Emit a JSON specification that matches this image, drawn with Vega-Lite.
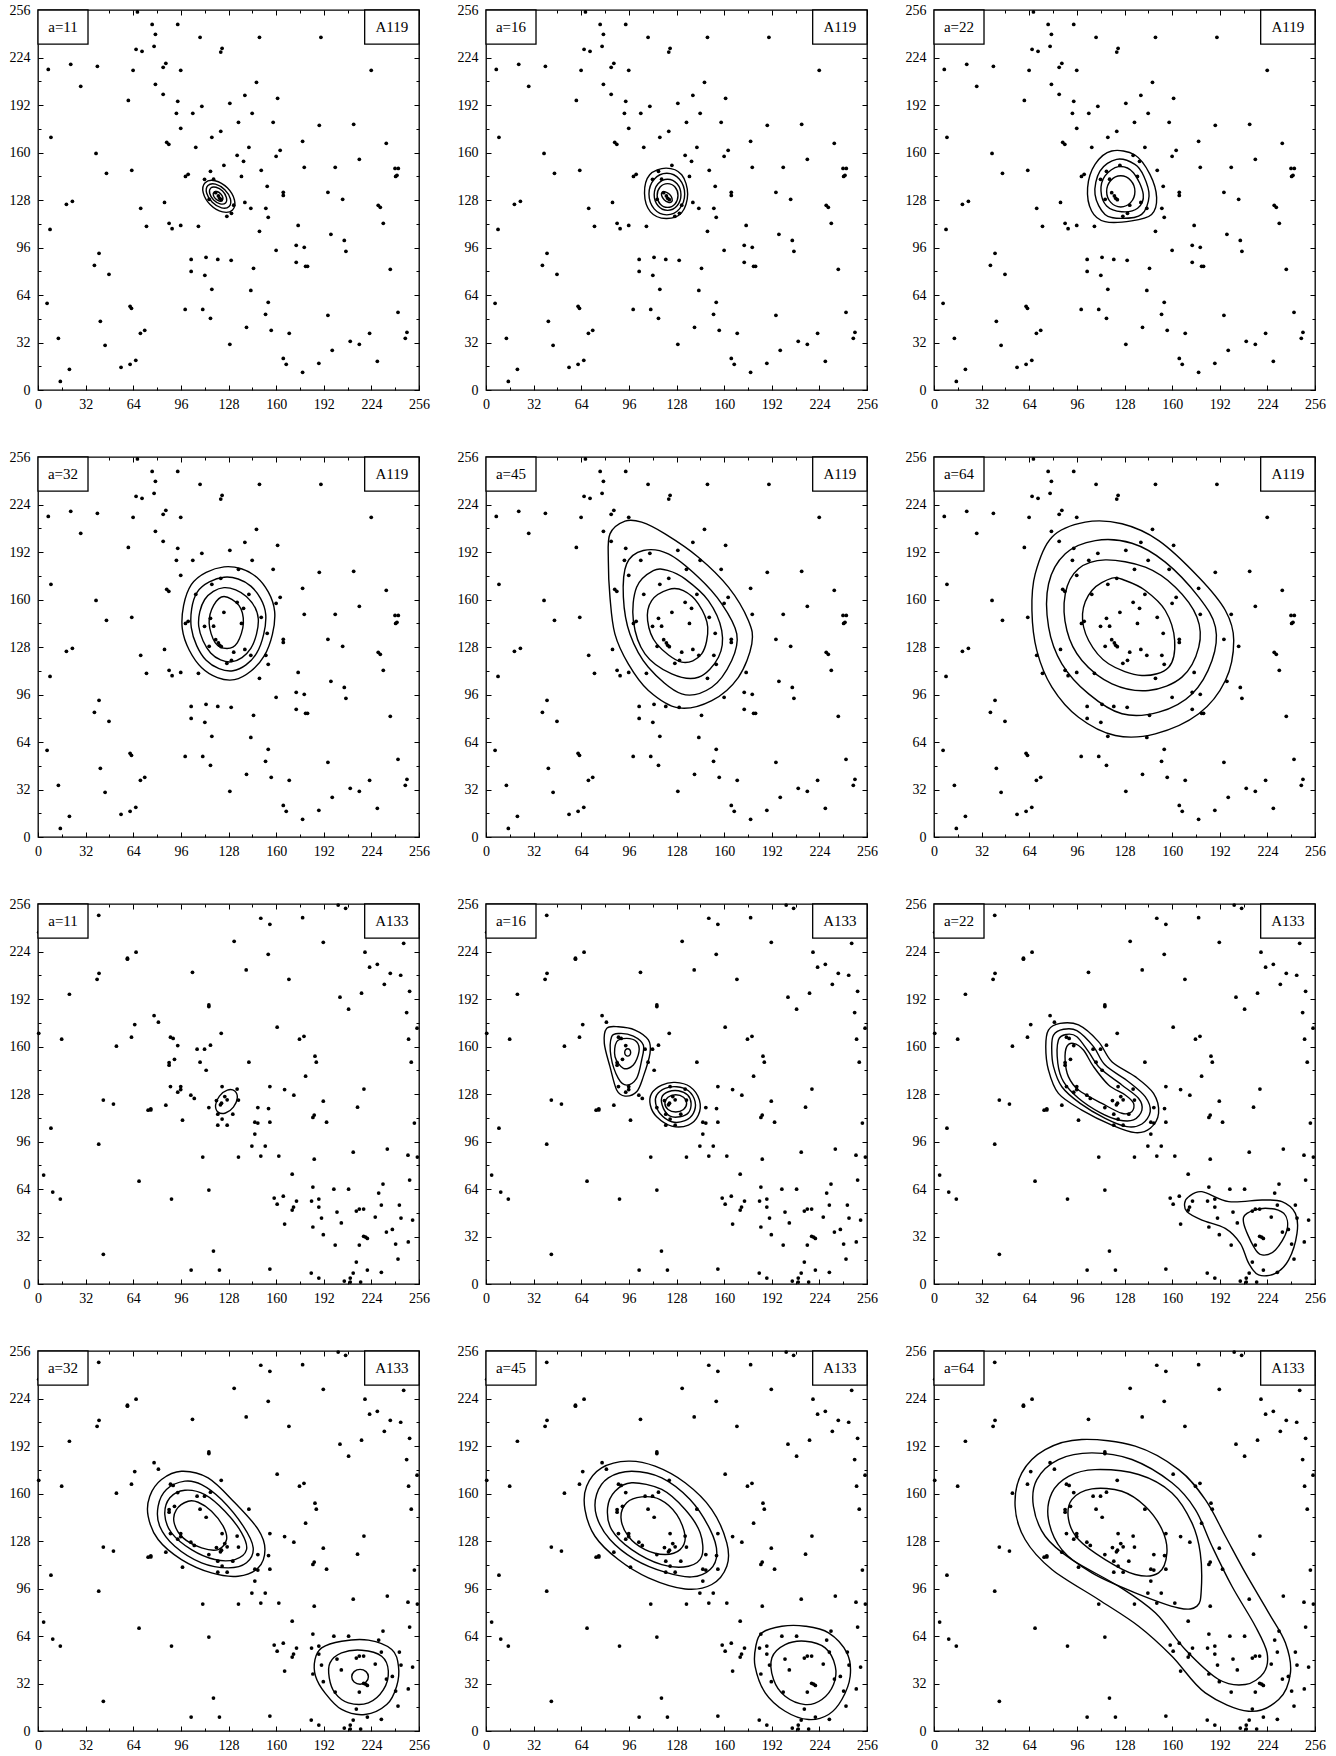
{
"$schema":"https://vega.github.io/schema/vega-lite/v6.json",
"padding":{"left":8,"top":2,"right":5,"bottom":5},
"background":"white",
"config":{"view":{"stroke":"black","strokeWidth":1.3},"axis":{"grid":false,"domain":false,"labelFont":"Liberation Serif","labelFontSize":14,"labelColor":"black","tickColor":"black","tickWidth":1,"labelFlush":false,"labelOverlap":false}},
"datasets":{
"A119":[{"x":66.8,"y":254.7},{"x":76.7,"y":246.3},{"x":93.9,"y":246.3},{"x":78.9,"y":239.6},{"x":108.9,"y":237.6},{"x":148.8,"y":237.6},{"x":190.1,"y":237.6},{"x":78,"y":231.5},{"x":65.9,"y":229.5},{"x":69.9,"y":228.2},{"x":123.7,"y":230.2},{"x":122.8,"y":227.7},{"x":6.9,"y":216},{"x":22,"y":219.4},{"x":39.9,"y":218.1},{"x":63.9,"y":215.4},{"x":85.9,"y":220.1},{"x":84.1,"y":217.4},{"x":95.9,"y":215.4},{"x":223.9,"y":215.4},{"x":28.7,"y":204.6},{"x":78.9,"y":205.9},{"x":146.8,"y":207.3},{"x":84.1,"y":199.2},{"x":60.7,"y":195.1},{"x":93.9,"y":194.5},{"x":128.9,"y":193.1},{"x":139,"y":198.5},{"x":161,"y":196.5},{"x":110.1,"y":191.1},{"x":93,"y":186.4},{"x":104,"y":186.4},{"x":143.9,"y":186.4},{"x":95.9,"y":176.3},{"x":134.7,"y":180.3},{"x":158,"y":180.3},{"x":189,"y":178.3},{"x":212.1,"y":179},{"x":8.7,"y":170.2},{"x":122.8,"y":174.3},{"x":116.8,"y":170.2},{"x":86.5,"y":166.9},{"x":87.9,"y":165.5},{"x":177.8,"y":167.5},{"x":234,"y":166.2},{"x":106,"y":163.5},{"x":141.7,"y":163.5},{"x":39,"y":159.4},{"x":162.7,"y":161.5},{"x":160,"y":157.4},{"x":133.8,"y":158.1},{"x":215.9,"y":155.4},{"x":138.1,"y":154.1},{"x":124.9,"y":151.4},{"x":178.9,"y":150},{"x":199.7,"y":150},{"x":239.9,"y":149.3},{"x":242.1,"y":149.3},{"x":46,"y":146},{"x":63,"y":148},{"x":150,"y":148},{"x":115.9,"y":147.3},{"x":100.9,"y":145.3},{"x":99.1,"y":143.9},{"x":136.7,"y":143.9},{"x":241.2,"y":144.6},{"x":240.3,"y":143.9},{"x":111.9,"y":141.9},{"x":118,"y":142},{"x":154,"y":137.2},{"x":164.8,"y":133.2},{"x":164.8,"y":131.1},{"x":194.8,"y":133.2},{"x":204.7,"y":128.5},{"x":19.1,"y":125.1},{"x":23.1,"y":127.1},{"x":85,"y":126.4},{"x":139,"y":126.4},{"x":69,"y":122.4},{"x":143,"y":122.4},{"x":153.1,"y":122.4},{"x":228.6,"y":124.4},{"x":230,"y":123.1},{"x":130,"y":119},{"x":126.9,"y":117},{"x":8.1,"y":108.2},{"x":88.1,"y":112.3},{"x":90.1,"y":108.7},{"x":95.9,"y":110.9},{"x":72.9,"y":110.3},{"x":107.8,"y":110.3},{"x":154.7,"y":116.3},{"x":148.8,"y":106.9},{"x":174.8,"y":110.9},{"x":232,"y":112.3},{"x":196.8,"y":104.9},{"x":205.8,"y":100.8},{"x":206.9,"y":93.4},{"x":160,"y":94.1},{"x":173.5,"y":97.5},{"x":178.9,"y":96.1},{"x":41,"y":92.1},{"x":37.9,"y":84},{"x":47.7,"y":77.9},{"x":102.9,"y":88},{"x":112.9,"y":89.4},{"x":120.8,"y":88},{"x":129.8,"y":87.4},{"x":102.9,"y":79.9},{"x":112.1,"y":77.3},{"x":144.8,"y":82},{"x":173.5,"y":86},{"x":179.8,"y":83.3},{"x":181.1,"y":83.3},{"x":236.7,"y":81.3},{"x":116.8,"y":67.8},{"x":143,"y":67.1},{"x":6.1,"y":58.4},{"x":61.9,"y":56.4},{"x":62.8,"y":55},{"x":98.9,"y":54.3},{"x":110.7,"y":54.3},{"x":154.7,"y":59.1},{"x":241.9,"y":52.3},{"x":152.9,"y":51},{"x":194.8,"y":50.3},{"x":115.9,"y":48.3},{"x":41.9,"y":46.3},{"x":68.8,"y":38.2},{"x":71.7,"y":40.2},{"x":140.1,"y":42.2},{"x":156.7,"y":40.2},{"x":168.8,"y":38.2},{"x":222.8,"y":38.2},{"x":247.9,"y":38.9},{"x":246.8,"y":34.8},{"x":13.7,"y":34.8},{"x":45.1,"y":30.1},{"x":128.9,"y":30.8},{"x":209.8,"y":32.8},{"x":215.9,"y":30.8},{"x":197.7,"y":26.7},{"x":65.7,"y":20},{"x":61.9,"y":17.3},{"x":55.8,"y":15.3},{"x":164.8,"y":21.3},{"x":166.8,"y":17.3},{"x":188.7,"y":18},{"x":228,"y":19.3},{"x":177.8,"y":11.9},{"x":21.1,"y":13.9},{"x":15,"y":5.8},{"x":119.4,"y":132.9},{"x":121.2,"y":130.7},{"x":122.1,"y":129.1},{"x":123.2,"y":128.2},{"x":115,"y":128.5},{"x":131.5,"y":124.5}],
"A133":[{"x":40.8,"y":248.4},{"x":149.7,"y":246.4},{"x":155.8,"y":242.3},{"x":177.8,"y":246.8},{"x":201.7,"y":255.3},{"x":206.7,"y":253.1},{"x":131.8,"y":230.9},{"x":191.7,"y":230.2},{"x":245.7,"y":229.5},{"x":60.1,"y":218.8},{"x":60.1,"y":219.5},{"x":65.9,"y":223.5},{"x":154.7,"y":222.1},{"x":219.7,"y":223.5},{"x":222.8,"y":213.4},{"x":228,"y":215.4},{"x":41,"y":209.3},{"x":39.7,"y":205.3},{"x":103.8,"y":210},{"x":139.9,"y":211.6},{"x":168.6,"y":205.3},{"x":236.7,"y":209.3},{"x":243.7,"y":208},{"x":232.7,"y":201.9},{"x":249.7,"y":197.2},{"x":21.1,"y":195.2},{"x":202.9,"y":193.2},{"x":217.4,"y":195.9},{"x":114.8,"y":188},{"x":114.8,"y":186.9},{"x":208.7,"y":185.1},{"x":247.7,"y":182.9},{"x":78,"y":180.8},{"x":80.9,"y":176.4},{"x":65,"y":174.8},{"x":0.5,"y":168.9},{"x":254.7,"y":172.3},{"x":62.8,"y":166.3},{"x":123.1,"y":168.9},{"x":160.7,"y":173},{"x":15.9,"y":164.9},{"x":89,"y":166.3},{"x":90.8,"y":165.4},{"x":175.7,"y":164.9},{"x":178.7,"y":166.9},{"x":249,"y":164.9},{"x":52.7,"y":160.2},{"x":93.9,"y":160.6},{"x":106.9,"y":158.2},{"x":111.9,"y":158.2},{"x":115.9,"y":160.9},{"x":186.1,"y":153.5},{"x":187,"y":149.4},{"x":88.1,"y":149.2},{"x":88.1,"y":147.4},{"x":91.7,"y":151.4},{"x":108.9,"y":149.4},{"x":113,"y":144},{"x":141.7,"y":149.4},{"x":250.8,"y":149.4},{"x":179.8,"y":140},{"x":89,"y":133},{"x":95.9,"y":133},{"x":95.9,"y":131},{"x":93.9,"y":129.2},{"x":123.7,"y":133},{"x":133.8,"y":131.3},{"x":155.8,"y":133},{"x":165.7,"y":131},{"x":219,"y":131.3},{"x":102.7,"y":127.2},{"x":105,"y":125},{"x":171.9,"y":127.2},{"x":43.9,"y":123.9},{"x":50.7,"y":121.2},{"x":85.9,"y":120.5},{"x":74,"y":117.1},{"x":75.8,"y":118},{"x":75.8,"y":117.3},{"x":114.8,"y":118.9},{"x":134.7,"y":123.9},{"x":147.7,"y":118.9},{"x":154.9,"y":118.2},{"x":191.7,"y":123.2},{"x":214.7,"y":119.1},{"x":120.8,"y":114.4},{"x":130.9,"y":114.4},{"x":123.7,"y":111.1},{"x":120.8,"y":107},{"x":127.1,"y":107},{"x":97.1,"y":110.4},{"x":145.7,"y":109},{"x":147.7,"y":108.4},{"x":155.8,"y":109},{"x":184.7,"y":112.2},{"x":185.6,"y":113.8},{"x":193.9,"y":109},{"x":252.9,"y":108.4},{"x":8.7,"y":105},{"x":145.7,"y":101},{"x":40.8,"y":94.2},{"x":143.7,"y":92.9},{"x":152.7,"y":92.9},{"x":110.7,"y":85.5},{"x":134.7,"y":85.5},{"x":149.7,"y":86.2},{"x":161.8,"y":86.2},{"x":185.6,"y":84.1},{"x":234.7,"y":90.9},{"x":211.8,"y":88.8},{"x":248.6,"y":86.8},{"x":254.9,"y":85.5},{"x":3.8,"y":73.4},{"x":170.8,"y":74},{"x":67.9,"y":69.3},{"x":249.7,"y":70},{"x":231.8,"y":67.3},{"x":9.9,"y":61.9},{"x":114.8,"y":63.3},{"x":184.7,"y":65.3},{"x":198.8,"y":63.9},{"x":208.7,"y":63.9},{"x":228.9,"y":61.3},{"x":15,"y":57.2},{"x":89.7,"y":57.2},{"x":158.7,"y":57.9},{"x":164.8,"y":59.2},{"x":160.7,"y":53.8},{"x":173.7,"y":55.9},{"x":170.8,"y":49.8},{"x":171.7,"y":51.8},{"x":183.8,"y":55.9},{"x":188.7,"y":57.2},{"x":188.7,"y":51.8},{"x":230.7,"y":53.2},{"x":242.8,"y":53.2},{"x":200.9,"y":48.5},{"x":213.9,"y":49.1},{"x":215.9,"y":50.5},{"x":218.8,"y":50.5},{"x":165.7,"y":40.4},{"x":190.5,"y":44.4},{"x":203.8,"y":41.1},{"x":226.6,"y":45.1},{"x":243.9,"y":44.4},{"x":251.7,"y":43.1},{"x":184.7,"y":38.4},{"x":191.7,"y":33.2},{"x":218.8,"y":32.1},{"x":220.1,"y":31.6},{"x":221.3,"y":30.7},{"x":234.1,"y":35},{"x":238.1,"y":36.8},{"x":199.7,"y":26.2},{"x":215.9,"y":26.2},{"x":240.3,"y":26.9},{"x":248.8,"y":28.3},{"x":213.9,"y":14.8},{"x":241.9,"y":16.8},{"x":43.9,"y":20},{"x":117.9,"y":22.2},{"x":102.9,"y":9.4},{"x":121.9,"y":9.4},{"x":155.8,"y":10.1},{"x":183.6,"y":7.4},{"x":188.7,"y":4},{"x":205.8,"y":2},{"x":209.8,"y":4},{"x":211.8,"y":7.4},{"x":216.8,"y":1.3},{"x":209.8,"y":1.3},{"x":221.3,"y":9.4},{"x":230.7,"y":7.9},{"x":0.5,"y":236.9},{"x":123.3,"y":121.8},{"x":122.6,"y":120.7},{"x":125.5,"y":126.3},{"x":127.1,"y":124.1},{"x":119.9,"y":123.6}],
"ct":[
{"p":"119_11","c":1,"x":130.7,"y":121.3},{"p":"119_11","c":1,"x":132,"y":128},{"p":"119_11","c":1,"x":127.2,"y":136.2},{"p":"119_11","c":1,"x":119,"y":141},{"p":"119_11","c":1,"x":112.3,"y":139.7},{"p":"119_11","c":1,"x":111,"y":133},{"p":"119_11","c":1,"x":115.8,"y":124.8},{"p":"119_11","c":1,"x":124,"y":120},
{"p":"119_11","c":2,"x":128.4,"y":123.6},{"p":"119_11","c":2,"x":129.3,"y":128.7},{"p":"119_11","c":2,"x":125.5,"y":134.9},{"p":"119_11","c":2,"x":119.3,"y":138.7},{"p":"119_11","c":2,"x":114.2,"y":137.8},{"p":"119_11","c":2,"x":113.3,"y":132.7},{"p":"119_11","c":2,"x":117.1,"y":126.5},{"p":"119_11","c":2,"x":123.3,"y":122.7},
{"p":"119_11","c":3,"x":126,"y":126},{"p":"119_11","c":3,"x":126.6,"y":129.6},{"p":"119_11","c":3,"x":124,"y":134},{"p":"119_11","c":3,"x":119.6,"y":136.6},{"p":"119_11","c":3,"x":116,"y":136},{"p":"119_11","c":3,"x":115.4,"y":132.4},{"p":"119_11","c":3,"x":118,"y":128},{"p":"119_11","c":3,"x":122.4,"y":125.4},
{"p":"119_11","c":4,"x":123.8,"y":127.7},{"p":"119_11","c":4,"x":124.2,"y":129.7},{"p":"119_11","c":4,"x":122.7,"y":132.2},{"p":"119_11","c":4,"x":120.2,"y":133.7},{"p":"119_11","c":4,"x":118.2,"y":133.3},{"p":"119_11","c":4,"x":117.8,"y":131.3},{"p":"119_11","c":4,"x":119.3,"y":128.8},{"p":"119_11","c":4,"x":121.8,"y":127.3},
{"p":"119_16","c":1,"x":121,"y":149.5},{"p":"119_16","c":1,"x":131.5,"y":145},{"p":"119_16","c":1,"x":135.5,"y":132},{"p":"119_16","c":1,"x":131.5,"y":119.5},{"p":"119_16","c":1,"x":121,"y":115.5},{"p":"119_16","c":1,"x":110.5,"y":120},{"p":"119_16","c":1,"x":106.5,"y":132.5},{"p":"119_16","c":1,"x":110,"y":145},
{"p":"119_16","c":2,"x":121.5,"y":146},{"p":"119_16","c":2,"x":130,"y":142},{"p":"119_16","c":2,"x":133.5,"y":132},{"p":"119_16","c":2,"x":130,"y":122},{"p":"119_16","c":2,"x":121.5,"y":118},{"p":"119_16","c":2,"x":113,"y":122},{"p":"119_16","c":2,"x":109.5,"y":132},{"p":"119_16","c":2,"x":113,"y":142},
{"p":"119_16","c":3,"x":122,"y":142},{"p":"119_16","c":3,"x":128.4,"y":138.9},{"p":"119_16","c":3,"x":131,"y":131.5},{"p":"119_16","c":3,"x":128.4,"y":124.1},{"p":"119_16","c":3,"x":122,"y":121},{"p":"119_16","c":3,"x":115.6,"y":124.1},{"p":"119_16","c":3,"x":113,"y":131.5},{"p":"119_16","c":3,"x":115.6,"y":138.9},
{"p":"119_16","c":4,"x":122,"y":139},{"p":"119_16","c":4,"x":127,"y":136.7},{"p":"119_16","c":4,"x":129,"y":131},{"p":"119_16","c":4,"x":127,"y":125.3},{"p":"119_16","c":4,"x":122,"y":123},{"p":"119_16","c":4,"x":117,"y":125.3},{"p":"119_16","c":4,"x":115,"y":131},{"p":"119_16","c":4,"x":117,"y":136.7},
{"p":"119_16","c":5,"x":124.7,"y":126.8},{"p":"119_16","c":5,"x":125,"y":129},{"p":"119_16","c":5,"x":123.3,"y":131.8},{"p":"119_16","c":5,"x":120.5,"y":133.5},{"p":"119_16","c":5,"x":118.3,"y":133.2},{"p":"119_16","c":5,"x":118,"y":131},{"p":"119_16","c":5,"x":119.7,"y":128.2},{"p":"119_16","c":5,"x":122.5,"y":126.5},
{"p":"119_22","c":1,"x":119.4,"y":161},{"p":"119_22","c":1,"x":135,"y":158.3},{"p":"119_22","c":1,"x":145.1,"y":145.3},{"p":"119_22","c":1,"x":149.6,"y":129.6},{"p":"119_22","c":1,"x":146.2,"y":118.3},{"p":"119_22","c":1,"x":132.8,"y":113.9},{"p":"119_22","c":1,"x":114.9,"y":113.4},{"p":"119_22","c":1,"x":105.9,"y":120.6},{"p":"119_22","c":1,"x":103.2,"y":136.3},{"p":"119_22","c":1,"x":108.2,"y":152},
{"p":"119_22","c":2,"x":122.7,"y":155.4},{"p":"119_22","c":2,"x":135,"y":152},{"p":"119_22","c":2,"x":141,"y":144},{"p":"119_22","c":2,"x":144.5,"y":130.7},{"p":"119_22","c":2,"x":139.5,"y":118.3},{"p":"119_22","c":2,"x":126.1,"y":115.6},{"p":"119_22","c":2,"x":114.9,"y":118.3},{"p":"119_22","c":2,"x":108.2,"y":131.8},{"p":"119_22","c":2,"x":111.5,"y":147.5},
{"p":"119_22","c":3,"x":124,"y":150.5},{"p":"119_22","c":3,"x":134,"y":146.4},{"p":"119_22","c":3,"x":140.6,"y":131.8},{"p":"119_22","c":3,"x":136.8,"y":122.4},{"p":"119_22","c":3,"x":126.1,"y":120.1},{"p":"119_22","c":3,"x":116,"y":124},{"p":"119_22","c":3,"x":112.2,"y":134.1},{"p":"119_22","c":3,"x":114.9,"y":144.2},
{"p":"119_22","c":4,"x":125.5,"y":144.3},{"p":"119_22","c":4,"x":132.2,"y":141.2},{"p":"119_22","c":4,"x":135,"y":133.8},{"p":"119_22","c":4,"x":132.2,"y":126.4},{"p":"119_22","c":4,"x":125.5,"y":123.3},{"p":"119_22","c":4,"x":118.8,"y":126.4},{"p":"119_22","c":4,"x":116,"y":133.8},{"p":"119_22","c":4,"x":118.8,"y":141.2},
{"p":"119_32","c":1,"x":125,"y":182},{"p":"119_32","c":1,"x":147,"y":175},{"p":"119_32","c":1,"x":159,"y":152},{"p":"119_32","c":1,"x":152,"y":122},{"p":"119_32","c":1,"x":132,"y":106},{"p":"119_32","c":1,"x":110,"y":114},{"p":"119_32","c":1,"x":97,"y":140},{"p":"119_32","c":1,"x":103,"y":170},
{"p":"119_32","c":2,"x":125,"y":175},{"p":"119_32","c":2,"x":143,"y":169},{"p":"119_32","c":2,"x":153,"y":150},{"p":"119_32","c":2,"x":147,"y":124},{"p":"119_32","c":2,"x":131,"y":112},{"p":"119_32","c":2,"x":113,"y":119},{"p":"119_32","c":2,"x":103,"y":141},{"p":"119_32","c":2,"x":107,"y":165},
{"p":"119_32","c":3,"x":125,"y":168},{"p":"119_32","c":3,"x":140,"y":162},{"p":"119_32","c":3,"x":148,"y":147},{"p":"119_32","c":3,"x":143,"y":127},{"p":"119_32","c":3,"x":130,"y":118},{"p":"119_32","c":3,"x":116,"y":124},{"p":"119_32","c":3,"x":108,"y":142},{"p":"119_32","c":3,"x":112,"y":160},
{"p":"119_32","c":4,"x":125,"y":162},{"p":"119_32","c":4,"x":135,"y":156},{"p":"119_32","c":4,"x":138,"y":144},{"p":"119_32","c":4,"x":134,"y":131},{"p":"119_32","c":4,"x":127,"y":127},{"p":"119_32","c":4,"x":119,"y":131},{"p":"119_32","c":4,"x":115,"y":144},{"p":"119_32","c":4,"x":118,"y":156},
{"p":"119_45","c":1,"x":93.4,"y":212.8},{"p":"119_45","c":1,"x":83.3,"y":204.2},{"p":"119_45","c":1,"x":82.2,"y":186.3},{"p":"119_45","c":1,"x":83.3,"y":161.6},{"p":"119_45","c":1,"x":86.6,"y":136.8},{"p":"119_45","c":1,"x":95.6,"y":116.6},{"p":"119_45","c":1,"x":109.1,"y":98.7},{"p":"119_45","c":1,"x":129.2,"y":87},{"p":"119_45","c":1,"x":151.7,"y":91.9},{"p":"119_45","c":1,"x":169.6,"y":107.6},{"p":"119_45","c":1,"x":178.6,"y":130.1},{"p":"119_45","c":1,"x":176.3,"y":145.8},{"p":"119_45","c":1,"x":162.9,"y":168.3},{"p":"119_45","c":1,"x":142.7,"y":188.5},{"p":"119_45","c":1,"x":120.3,"y":204.2},{"p":"119_45","c":1,"x":104.6,"y":212.1},
{"p":"119_45","c":2,"x":105.7,"y":193},{"p":"119_45","c":2,"x":94.5,"y":184},{"p":"119_45","c":2,"x":92.3,"y":161.6},{"p":"119_45","c":2,"x":96.7,"y":136.8},{"p":"119_45","c":2,"x":109.1,"y":114.4},{"p":"119_45","c":2,"x":131.5,"y":96.4},{"p":"119_45","c":2,"x":151.7,"y":100.9},{"p":"119_45","c":2,"x":165.1,"y":118.9},{"p":"119_45","c":2,"x":168.5,"y":136.8},{"p":"119_45","c":2,"x":158.4,"y":157.1},{"p":"119_45","c":2,"x":142.7,"y":175},{"p":"119_45","c":2,"x":122.5,"y":190.7},
{"p":"119_45","c":3,"x":112.4,"y":179.5},{"p":"119_45","c":3,"x":101.2,"y":168.3},{"p":"119_45","c":3,"x":99,"y":145.8},{"p":"119_45","c":3,"x":106.8,"y":123.4},{"p":"119_45","c":3,"x":124.8,"y":109.9},{"p":"119_45","c":3,"x":142.7,"y":107.6},{"p":"119_45","c":3,"x":156.2,"y":121.1},{"p":"119_45","c":3,"x":158.4,"y":139.1},{"p":"119_45","c":3,"x":149.4,"y":159.3},{"p":"119_45","c":3,"x":133.7,"y":173.9},{"p":"119_45","c":3,"x":122.5,"y":179.5},
{"p":"119_45","c":4,"x":122.5,"y":166.7},{"p":"119_45","c":4,"x":111.3,"y":159.3},{"p":"119_45","c":4,"x":108.6,"y":145.8},{"p":"119_45","c":4,"x":114.7,"y":130.1},{"p":"119_45","c":4,"x":131.5,"y":117.8},{"p":"119_45","c":4,"x":144.9,"y":123.4},{"p":"119_45","c":4,"x":149,"y":141.3},{"p":"119_45","c":4,"x":142.7,"y":157.1},{"p":"119_45","c":4,"x":132.6,"y":166},
{"p":"119_64","c":1,"x":101.6,"y":212.1},{"p":"119_64","c":1,"x":79.2,"y":202},{"p":"119_64","c":1,"x":68,"y":177.3},{"p":"119_64","c":1,"x":65.8,"y":152.6},{"p":"119_64","c":1,"x":69.1,"y":125.6},{"p":"119_64","c":1,"x":79.2,"y":101},{"p":"119_64","c":1,"x":97.1,"y":80.7},{"p":"119_64","c":1,"x":121.8,"y":68.4},{"p":"119_64","c":1,"x":148.7,"y":69.5},{"p":"119_64","c":1,"x":177.9,"y":83},{"p":"119_64","c":1,"x":195.8,"y":105.4},{"p":"119_64","c":1,"x":201.4,"y":132.4},{"p":"119_64","c":1,"x":195.8,"y":152.6},{"p":"119_64","c":1,"x":177.9,"y":175},{"p":"119_64","c":1,"x":151,"y":199.7},{"p":"119_64","c":1,"x":126.3,"y":211},
{"p":"119_64","c":2,"x":108.4,"y":199.7},{"p":"119_64","c":2,"x":88.2,"y":190.8},{"p":"119_64","c":2,"x":77,"y":170.6},{"p":"119_64","c":2,"x":77,"y":141.4},{"p":"119_64","c":2,"x":85.9,"y":116.7},{"p":"119_64","c":2,"x":103.9,"y":96.4},{"p":"119_64","c":2,"x":126.3,"y":83},{"p":"119_64","c":2,"x":151,"y":84.1},{"p":"119_64","c":2,"x":173.4,"y":96.4},{"p":"119_64","c":2,"x":186.8,"y":118.9},{"p":"119_64","c":2,"x":189.1,"y":141.4},{"p":"119_64","c":2,"x":177.9,"y":161.6},{"p":"119_64","c":2,"x":155.4,"y":185.2},{"p":"119_64","c":2,"x":133,"y":197.9},
{"p":"119_64","c":3,"x":115.1,"y":186.7},{"p":"119_64","c":3,"x":97.1,"y":180.7},{"p":"119_64","c":3,"x":88.2,"y":163.8},{"p":"119_64","c":3,"x":89.3,"y":139.1},{"p":"119_64","c":3,"x":99.4,"y":118.9},{"p":"119_64","c":3,"x":119.6,"y":103.2},{"p":"119_64","c":3,"x":144.2,"y":98.7},{"p":"119_64","c":3,"x":166.6,"y":107.7},{"p":"119_64","c":3,"x":177.9,"y":127.9},{"p":"119_64","c":3,"x":176.7,"y":148.1},{"p":"119_64","c":3,"x":162.2,"y":168.3},{"p":"119_64","c":3,"x":142,"y":181.8},
{"p":"119_64","c":4,"x":119.6,"y":174.4},{"p":"119_64","c":4,"x":106.1,"y":166.1},{"p":"119_64","c":4,"x":99.8,"y":150.3},{"p":"119_64","c":4,"x":103.9,"y":132.4},{"p":"119_64","c":4,"x":117.3,"y":116.7},{"p":"119_64","c":4,"x":139.7,"y":108.8},{"p":"119_64","c":4,"x":157.7,"y":114.4},{"p":"119_64","c":4,"x":161.7,"y":132.4},{"p":"119_64","c":4,"x":155.4,"y":152.6},{"p":"119_64","c":4,"x":142,"y":166.1},{"p":"119_64","c":4,"x":128.5,"y":172.8},
{"p":"133_11","c":1,"x":132.2,"y":130},{"p":"133_11","c":1,"x":127.2,"y":130.6},{"p":"133_11","c":1,"x":121.9,"y":126.6},{"p":"133_11","c":1,"x":119.3,"y":120.5},{"p":"133_11","c":1,"x":121,"y":115.8},{"p":"133_11","c":1,"x":126,"y":115.2},{"p":"133_11","c":1,"x":131.3,"y":119.2},{"p":"133_11","c":1,"x":133.9,"y":125.3},
{"p":"133_16","c":1,"x":81.1,"y":172.2},{"p":"133_16","c":1,"x":79.5,"y":162.1},{"p":"133_16","c":1,"x":83.3,"y":146.4},{"p":"133_16","c":1,"x":87.8,"y":130.7},{"p":"133_16","c":1,"x":93.4,"y":126.6},{"p":"133_16","c":1,"x":101.2,"y":129.5},{"p":"133_16","c":1,"x":105.7,"y":139.7},{"p":"133_16","c":1,"x":110.2,"y":155.4},{"p":"133_16","c":1,"x":109.1,"y":164.4},{"p":"133_16","c":1,"x":100.1,"y":171.1},{"p":"133_16","c":1,"x":88.9,"y":173.3},
{"p":"133_16","c":2,"x":84.4,"y":166.6},{"p":"133_16","c":2,"x":84,"y":153.1},{"p":"133_16","c":2,"x":88.9,"y":138.5},{"p":"133_16","c":2,"x":94.5,"y":134},{"p":"133_16","c":2,"x":101.2,"y":138.5},{"p":"133_16","c":2,"x":104.6,"y":150.9},{"p":"133_16","c":2,"x":105.7,"y":161},{"p":"133_16","c":2,"x":99,"y":167},{"p":"133_16","c":2,"x":90,"y":168.8},
{"p":"133_16","c":3,"x":87.8,"y":163.2},{"p":"133_16","c":3,"x":86.7,"y":153.1},{"p":"133_16","c":3,"x":92.3,"y":145.3},{"p":"133_16","c":3,"x":99,"y":147.5},{"p":"133_16","c":3,"x":102.8,"y":156.5},{"p":"133_16","c":3,"x":101.2,"y":163.2},{"p":"133_16","c":3,"x":94.5,"y":165.5},
{"p":"133_16","c":4,"x":95.2,"y":158.5},{"p":"133_16","c":4,"x":96.6,"y":157.8},{"p":"133_16","c":4,"x":97.2,"y":156},{"p":"133_16","c":4,"x":96.6,"y":154.2},{"p":"133_16","c":4,"x":95.2,"y":153.5},{"p":"133_16","c":4,"x":93.8,"y":154.2},{"p":"133_16","c":4,"x":93.2,"y":156},{"p":"133_16","c":4,"x":93.8,"y":157.8},
{"p":"133_16","c":5,"x":111.3,"y":128.4},{"p":"133_16","c":5,"x":118.1,"y":134},{"p":"133_16","c":5,"x":127,"y":135.8},{"p":"133_16","c":5,"x":137.1,"y":132.9},{"p":"133_16","c":5,"x":143.4,"y":123.9},{"p":"133_16","c":5,"x":142.7,"y":113.8},{"p":"133_16","c":5,"x":136,"y":107.1},{"p":"133_16","c":5,"x":124.8,"y":106.4},{"p":"133_16","c":5,"x":114.7,"y":112.7},{"p":"133_16","c":5,"x":110.4,"y":120.6},
{"p":"133_16","c":6,"x":114.7,"y":127.3},{"p":"133_16","c":6,"x":120.3,"y":131.8},{"p":"133_16","c":6,"x":128.1,"y":132.9},{"p":"133_16","c":6,"x":136,"y":130.2},{"p":"133_16","c":6,"x":140.5,"y":122.8},{"p":"133_16","c":6,"x":139.3,"y":114.9},{"p":"133_16","c":6,"x":133.7,"y":110},{"p":"133_16","c":6,"x":124.8,"y":109.3},{"p":"133_16","c":6,"x":116.9,"y":114.9},{"p":"133_16","c":6,"x":114,"y":121.7},
{"p":"133_16","c":7,"x":118.1,"y":125.7},{"p":"133_16","c":7,"x":122.5,"y":129.5},{"p":"133_16","c":7,"x":129.3,"y":130.2},{"p":"133_16","c":7,"x":135.5,"y":127.3},{"p":"133_16","c":7,"x":137.8,"y":121.7},{"p":"133_16","c":7,"x":136,"y":115.4},{"p":"133_16","c":7,"x":130.4,"y":112.7},{"p":"133_16","c":7,"x":123.7,"y":113.1},{"p":"133_16","c":7,"x":119.2,"y":118.3},
{"p":"133_16","c":8,"x":127.5,"y":127.5},{"p":"133_16","c":8,"x":132.7,"y":125.8},{"p":"133_16","c":8,"x":134.8,"y":121.7},{"p":"133_16","c":8,"x":132.7,"y":117.6},{"p":"133_16","c":8,"x":127.5,"y":115.9},{"p":"133_16","c":8,"x":122.3,"y":117.6},{"p":"133_16","c":8,"x":120.2,"y":121.7},{"p":"133_16","c":8,"x":122.3,"y":125.8},
{"p":"133_22","c":1,"x":76.9,"y":171.1},{"p":"133_22","c":1,"x":84.7,"y":175.6},{"p":"133_22","c":1,"x":97.1,"y":174.5},{"p":"133_22","c":1,"x":110.5,"y":163.3},{"p":"133_22","c":1,"x":119.5,"y":149.8},{"p":"133_22","c":1,"x":135.2,"y":139.7},{"p":"133_22","c":1,"x":147.5,"y":128.4},{"p":"133_22","c":1,"x":150.9,"y":115},{"p":"133_22","c":1,"x":145.3,"y":104.9},{"p":"133_22","c":1,"x":135.2,"y":102},{"p":"133_22","c":1,"x":119.5,"y":107.1},{"p":"133_22","c":1,"x":99.3,"y":117.2},{"p":"133_22","c":1,"x":83.6,"y":128.4},{"p":"133_22","c":1,"x":76.9,"y":144.2},{"p":"133_22","c":1,"x":75.1,"y":159.9},
{"p":"133_22","c":2,"x":80.3,"y":167.7},{"p":"133_22","c":2,"x":87,"y":171.6},{"p":"133_22","c":2,"x":96,"y":170.7},{"p":"133_22","c":2,"x":107.2,"y":159.9},{"p":"133_22","c":2,"x":115,"y":147.5},{"p":"133_22","c":2,"x":130.7,"y":136.3},{"p":"133_22","c":2,"x":141.9,"y":126.2},{"p":"133_22","c":2,"x":145.3,"y":116.1},{"p":"133_22","c":2,"x":139.7,"y":107.8},{"p":"133_22","c":2,"x":129.6,"y":106},{"p":"133_22","c":2,"x":115,"y":111.6},{"p":"133_22","c":2,"x":98.2,"y":121.7},{"p":"133_22","c":2,"x":85.9,"y":132.9},{"p":"133_22","c":2,"x":80.3,"y":146.4},{"p":"133_22","c":2,"x":79.1,"y":158.8},
{"p":"133_22","c":3,"x":83.6,"y":164.4},{"p":"133_22","c":3,"x":89.2,"y":168.2},{"p":"133_22","c":3,"x":96,"y":166.6},{"p":"133_22","c":3,"x":103.8,"y":156.5},{"p":"133_22","c":3,"x":111.6,"y":145.3},{"p":"133_22","c":3,"x":126.2,"y":134.1},{"p":"133_22","c":3,"x":137.4,"y":125.1},{"p":"133_22","c":3,"x":139.7,"y":117.2},{"p":"133_22","c":3,"x":134.1,"y":110.5},{"p":"133_22","c":3,"x":124,"y":110.5},{"p":"133_22","c":3,"x":111.6,"y":115.4},{"p":"133_22","c":3,"x":97.1,"y":125.1},{"p":"133_22","c":3,"x":87,"y":136.3},{"p":"133_22","c":3,"x":83.2,"y":148.7},
{"p":"133_22","c":4,"x":89.2,"y":159.9},{"p":"133_22","c":4,"x":93.7,"y":162.1},{"p":"133_22","c":4,"x":100.4,"y":157.6},{"p":"133_22","c":4,"x":107.2,"y":146.4},{"p":"133_22","c":4,"x":117.3,"y":134.1},{"p":"133_22","c":4,"x":128.5,"y":127.3},{"p":"133_22","c":4,"x":134.1,"y":121.7},{"p":"133_22","c":4,"x":132.9,"y":116.1},{"p":"133_22","c":4,"x":126.2,"y":115},{"p":"133_22","c":4,"x":112.8,"y":121.7},{"p":"133_22","c":4,"x":97.1,"y":130.7},{"p":"133_22","c":4,"x":90.3,"y":139.7},{"p":"133_22","c":4,"x":88.1,"y":150.9},
{"p":"133_22","c":5,"x":171.1,"y":58.8},{"p":"133_22","c":5,"x":180,"y":62.2},{"p":"133_22","c":5,"x":198,"y":55.5},{"p":"133_22","c":5,"x":220.4,"y":56.6},{"p":"133_22","c":5,"x":233.8,"y":55.5},{"p":"133_22","c":5,"x":242.8,"y":47.6},{"p":"133_22","c":5,"x":243.9,"y":34.1},{"p":"133_22","c":5,"x":238.3,"y":16.2},{"p":"133_22","c":5,"x":229.4,"y":7.2},{"p":"133_22","c":5,"x":218.1,"y":6.1},{"p":"133_22","c":5,"x":211.4,"y":14},{"p":"133_22","c":5,"x":205.8,"y":27.4},{"p":"133_22","c":5,"x":195.7,"y":37.5},{"p":"133_22","c":5,"x":180,"y":43.1},{"p":"133_22","c":5,"x":170,"y":48.7},{"p":"133_22","c":5,"x":168.4,"y":54.3},
{"p":"133_22","c":6,"x":210.3,"y":47.6},{"p":"133_22","c":6,"x":222.6,"y":51},{"p":"133_22","c":6,"x":235,"y":47.6},{"p":"133_22","c":6,"x":237.2,"y":36.4},{"p":"133_22","c":6,"x":229.4,"y":22.9},{"p":"133_22","c":6,"x":220.4,"y":19.6},{"p":"133_22","c":6,"x":214.8,"y":25.1},{"p":"133_22","c":6,"x":208.1,"y":40.9},
{"p":"133_32","c":1,"x":96.4,"y":175},{"p":"133_32","c":1,"x":83,"y":169.4},{"p":"133_32","c":1,"x":75.1,"y":158.2},{"p":"133_32","c":1,"x":74,"y":144.7},{"p":"133_32","c":1,"x":80.7,"y":129},{"p":"133_32","c":1,"x":96.4,"y":115.5},{"p":"133_32","c":1,"x":116.6,"y":106.5},{"p":"133_32","c":1,"x":134.5,"y":104.3},{"p":"133_32","c":1,"x":148,"y":109.9},{"p":"133_32","c":1,"x":152.5,"y":122.2},{"p":"133_32","c":1,"x":148,"y":135.7},{"p":"133_32","c":1,"x":132.3,"y":153.7},{"p":"133_32","c":1,"x":114.3,"y":170.5},
{"p":"133_32","c":2,"x":98.7,"y":168.3},{"p":"133_32","c":2,"x":86.3,"y":162.7},{"p":"133_32","c":2,"x":80.7,"y":151.4},{"p":"133_32","c":2,"x":81.8,"y":138},{"p":"133_32","c":2,"x":91.9,"y":124.5},{"p":"133_32","c":2,"x":109.9,"y":113.3},{"p":"133_32","c":2,"x":127.8,"y":109.9},{"p":"133_32","c":2,"x":140.1,"y":113.3},{"p":"133_32","c":2,"x":144.6,"y":123.4},{"p":"133_32","c":2,"x":137.9,"y":138},{"p":"133_32","c":2,"x":123.3,"y":155.9},{"p":"133_32","c":2,"x":109.9,"y":166},
{"p":"133_32","c":3,"x":98.7,"y":162.2},{"p":"133_32","c":3,"x":88.6,"y":157.1},{"p":"133_32","c":3,"x":85.2,"y":145.8},{"p":"133_32","c":3,"x":89.7,"y":133.5},{"p":"133_32","c":3,"x":103.1,"y":122.2},{"p":"133_32","c":3,"x":118.8,"y":115.5},{"p":"133_32","c":3,"x":132.3,"y":115.5},{"p":"133_32","c":3,"x":140.1,"y":122.2},{"p":"133_32","c":3,"x":136.8,"y":133.5},{"p":"133_32","c":3,"x":125.6,"y":148.1},{"p":"133_32","c":3,"x":112.1,"y":159.3},
{"p":"133_32","c":4,"x":100.9,"y":154.8},{"p":"133_32","c":4,"x":93,"y":149.2},{"p":"133_32","c":4,"x":91.5,"y":140.2},{"p":"133_32","c":4,"x":97.5,"y":130.1},{"p":"133_32","c":4,"x":109.9,"y":123.4},{"p":"133_32","c":4,"x":121.1,"y":122.2},{"p":"133_32","c":4,"x":126.7,"y":129},{"p":"133_32","c":4,"x":124.4,"y":138},{"p":"133_32","c":4,"x":116.6,"y":148.1},{"p":"133_32","c":4,"x":107.6,"y":154.1},
{"p":"133_32","c":5,"x":186.1,"y":48.1},{"p":"133_32","c":5,"x":190.6,"y":56},{"p":"133_32","c":5,"x":204,"y":60.5},{"p":"133_32","c":5,"x":222,"y":61.2},{"p":"133_32","c":5,"x":237.7,"y":54.9},{"p":"133_32","c":5,"x":242.2,"y":43.7},{"p":"133_32","c":5,"x":241,"y":30.2},{"p":"133_32","c":5,"x":234.3,"y":17.8},{"p":"133_32","c":5,"x":219.7,"y":11.1},{"p":"133_32","c":5,"x":204,"y":14.5},{"p":"133_32","c":5,"x":192.8,"y":25.7},{"p":"133_32","c":5,"x":186.5,"y":36.9},
{"p":"133_32","c":6,"x":196.2,"y":45.9},{"p":"133_32","c":6,"x":204,"y":52.6},{"p":"133_32","c":6,"x":217.5,"y":54.4},{"p":"133_32","c":6,"x":230.9,"y":50.4},{"p":"133_32","c":6,"x":235.4,"y":40.3},{"p":"133_32","c":6,"x":232.1,"y":27.9},{"p":"133_32","c":6,"x":222,"y":19},{"p":"133_32","c":6,"x":208.5,"y":19},{"p":"133_32","c":6,"x":199.5,"y":25.7},{"p":"133_32","c":6,"x":195.7,"y":35.8},
{"p":"133_32","c":7,"x":216.4,"y":41.5},{"p":"133_32","c":7,"x":220.4,"y":40},{"p":"133_32","c":7,"x":222,"y":36.5},{"p":"133_32","c":7,"x":220.4,"y":33},{"p":"133_32","c":7,"x":216.4,"y":31.5},{"p":"133_32","c":7,"x":212.4,"y":33},{"p":"133_32","c":7,"x":210.8,"y":36.5},{"p":"133_32","c":7,"x":212.4,"y":40},
{"p":"133_45","c":1,"x":95.6,"y":181.8},{"p":"133_45","c":1,"x":77.7,"y":177.3},{"p":"133_45","c":1,"x":67.6,"y":164.9},{"p":"133_45","c":1,"x":66.5,"y":149.2},{"p":"133_45","c":1,"x":73.2,"y":131.2},{"p":"133_45","c":1,"x":88.9,"y":115.5},{"p":"133_45","c":1,"x":109.1,"y":103.2},{"p":"133_45","c":1,"x":133.8,"y":95.7},{"p":"133_45","c":1,"x":151.7,"y":98.7},{"p":"133_45","c":1,"x":161.8,"y":111},{"p":"133_45","c":1,"x":161.8,"y":126.7},{"p":"133_45","c":1,"x":151.7,"y":149.2},{"p":"133_45","c":1,"x":133.8,"y":167.2},{"p":"133_45","c":1,"x":113.6,"y":178.4},
{"p":"133_45","c":2,"x":97.9,"y":175},{"p":"133_45","c":2,"x":82.2,"y":170.5},{"p":"133_45","c":2,"x":74.3,"y":159.3},{"p":"133_45","c":2,"x":74.3,"y":144.7},{"p":"133_45","c":2,"x":83.3,"y":129},{"p":"133_45","c":2,"x":100.1,"y":115.5},{"p":"133_45","c":2,"x":120.3,"y":107},{"p":"133_45","c":2,"x":138.2,"y":103.8},{"p":"133_45","c":2,"x":150.6,"y":108.8},{"p":"133_45","c":2,"x":155.1,"y":120},{"p":"133_45","c":2,"x":150.6,"y":135.7},{"p":"133_45","c":2,"x":137.1,"y":155.9},{"p":"133_45","c":2,"x":118.1,"y":170.5},
{"p":"133_45","c":3,"x":97.9,"y":167.2},{"p":"133_45","c":3,"x":86.7,"y":161.5},{"p":"133_45","c":3,"x":81.7,"y":150.3},{"p":"133_45","c":3,"x":84.4,"y":135.7},{"p":"133_45","c":3,"x":97.9,"y":122.2},{"p":"133_45","c":3,"x":118.1,"y":112.1},{"p":"133_45","c":3,"x":136,"y":111},{"p":"133_45","c":3,"x":145,"y":117.8},{"p":"133_45","c":3,"x":143.9,"y":133.5},{"p":"133_45","c":3,"x":133.8,"y":149.2},{"p":"133_45","c":3,"x":118.1,"y":162.7},
{"p":"133_45","c":4,"x":104.6,"y":157.7},{"p":"133_45","c":4,"x":94.5,"y":153.7},{"p":"133_45","c":4,"x":90.7,"y":143.6},{"p":"133_45","c":4,"x":95.6,"y":131.2},{"p":"133_45","c":4,"x":106.9,"y":122.2},{"p":"133_45","c":4,"x":120.3,"y":118.9},{"p":"133_45","c":4,"x":130.4,"y":122.2},{"p":"133_45","c":4,"x":133.8,"y":131.2},{"p":"133_45","c":4,"x":128.2,"y":145.8},{"p":"133_45","c":4,"x":117,"y":155.9},
{"p":"133_45","c":5,"x":185.3,"y":66.1},{"p":"133_45","c":5,"x":198.8,"y":70.6},{"p":"133_45","c":5,"x":214.5,"y":70.6},{"p":"133_45","c":5,"x":230.2,"y":66.1},{"p":"133_45","c":5,"x":242.5,"y":52.6},{"p":"133_45","c":5,"x":244.7,"y":36.9},{"p":"133_45","c":5,"x":239.1,"y":21.2},{"p":"133_45","c":5,"x":230.2,"y":11.1},{"p":"133_45","c":5,"x":216.7,"y":7.7},{"p":"133_45","c":5,"x":201,"y":13.3},{"p":"133_45","c":5,"x":187.6,"y":25.7},{"p":"133_45","c":5,"x":180.8,"y":43.6},{"p":"133_45","c":5,"x":181.3,"y":57.1},
{"p":"133_45","c":6,"x":192.1,"y":49.3},{"p":"133_45","c":6,"x":201,"y":58.2},{"p":"133_45","c":6,"x":214.5,"y":60.5},{"p":"133_45","c":6,"x":227.9,"y":56},{"p":"133_45","c":6,"x":234.7,"y":43.6},{"p":"133_45","c":6,"x":233.5,"y":31.3},{"p":"133_45","c":6,"x":225.7,"y":21.2},{"p":"133_45","c":6,"x":214.5,"y":17.8},{"p":"133_45","c":6,"x":201,"y":23.4},{"p":"133_45","c":6,"x":193.2,"y":34.7},
{"p":"133_64","c":1,"x":99.3,"y":196.4},{"p":"133_64","c":1,"x":74.7,"y":189.6},{"p":"133_64","c":1,"x":59,"y":173.9},{"p":"133_64","c":1,"x":54.5,"y":151.4},{"p":"133_64","c":1,"x":61.2,"y":129},{"p":"133_64","c":1,"x":79.2,"y":108.8},{"p":"133_64","c":1,"x":110.5,"y":88.6},{"p":"133_64","c":1,"x":137.5,"y":70.6},{"p":"133_64","c":1,"x":159.9,"y":50.4},{"p":"133_64","c":1,"x":182.3,"y":25.7},{"p":"133_64","c":1,"x":211.4,"y":13.3},{"p":"133_64","c":1,"x":231.6,"y":21.2},{"p":"133_64","c":1,"x":239.5,"y":39.2},{"p":"133_64","c":1,"x":236.1,"y":59.4},{"p":"133_64","c":1,"x":224.9,"y":79.6},{"p":"133_64","c":1,"x":209.2,"y":106.5},{"p":"133_64","c":1,"x":195.8,"y":131.2},{"p":"133_64","c":1,"x":182.3,"y":155.9},{"p":"133_64","c":1,"x":164.4,"y":176.1},{"p":"133_64","c":1,"x":135.2,"y":191.9},
{"p":"133_64","c":2,"x":106.1,"y":187.4},{"p":"133_64","c":2,"x":83.6,"y":182.9},{"p":"133_64","c":2,"x":69.1,"y":169.4},{"p":"133_64","c":2,"x":66.8,"y":151.4},{"p":"133_64","c":2,"x":74.7,"y":131.2},{"p":"133_64","c":2,"x":92.6,"y":115.5},{"p":"133_64","c":2,"x":124,"y":97.5},{"p":"133_64","c":2,"x":148.7,"y":79.6},{"p":"133_64","c":2,"x":168.8,"y":54.9},{"p":"133_64","c":2,"x":191.3,"y":34.7},{"p":"133_64","c":2,"x":209.2,"y":31.3},{"p":"133_64","c":2,"x":221.5,"y":39.2},{"p":"133_64","c":2,"x":223.8,"y":52.6},{"p":"133_64","c":2,"x":215.9,"y":70.6},{"p":"133_64","c":2,"x":200.2,"y":97.5},{"p":"133_64","c":2,"x":186.8,"y":124.5},{"p":"133_64","c":2,"x":175.6,"y":149.2},{"p":"133_64","c":2,"x":159.9,"y":167.2},{"p":"133_64","c":2,"x":133,"y":182.9},
{"p":"133_64","c":3,"x":108.3,"y":176.1},{"p":"133_64","c":3,"x":90.4,"y":171.6},{"p":"133_64","c":3,"x":79.2,"y":160.4},{"p":"133_64","c":3,"x":76.9,"y":142.5},{"p":"133_64","c":3,"x":85.9,"y":122.2},{"p":"133_64","c":3,"x":106.1,"y":106.5},{"p":"133_64","c":3,"x":135.2,"y":93.1},{"p":"133_64","c":3,"x":164.4,"y":82.9},{"p":"133_64","c":3,"x":176.7,"y":84.1},{"p":"133_64","c":3,"x":179.6,"y":95.3},{"p":"133_64","c":3,"x":178.9,"y":120},{"p":"133_64","c":3,"x":173.3,"y":140.2},{"p":"133_64","c":3,"x":159.9,"y":160.4},{"p":"133_64","c":3,"x":137.5,"y":172.8},
{"p":"133_64","c":4,"x":106.1,"y":163.1},{"p":"133_64","c":4,"x":92.6,"y":155.9},{"p":"133_64","c":4,"x":90.4,"y":142.5},{"p":"133_64","c":4,"x":97.1,"y":129},{"p":"133_64","c":4,"x":115,"y":115.5},{"p":"133_64","c":4,"x":135.2,"y":105.4},{"p":"133_64","c":4,"x":150.9,"y":106.5},{"p":"133_64","c":4,"x":156.5,"y":120},{"p":"133_64","c":4,"x":153.2,"y":135.7},{"p":"133_64","c":4,"x":141.9,"y":151.4},{"p":"133_64","c":4,"x":126.2,"y":161.5}
]},
"columns":3,
"spacing":67,
"bounds":"flush",
"concat":[
{"width":381,"height":380,"resolve":{"axis":{"x":"independent","y":"independent"}},"layer":[
{"data":{"name":"A119"},"mark":{"type":"circle","size":14,"color":"black","opacity":1},"encoding":{"x":{"field":"x","type":"quantitative","scale":{"domain":[0,256],"nice":false,"zero":false},"axis":{"orient":"bottom","values":[0,32,64,96,128,160,192,224,256],"ticks":false,"labelPadding":7,"title":null}},"y":{"field":"y","type":"quantitative","scale":{"domain":[0,256],"nice":false,"zero":false},"axis":{"orient":"left","values":[0,32,64,96,128,160,192,224,256],"ticks":false,"labelPadding":8,"title":null}}}},
{"data":{"name":"ct"},"transform":[{"filter":"datum.p==='119_11'"}],"mark":{"type":"line","interpolate":"cardinal-closed","color":"black","strokeWidth":1.4},"encoding":{"x":{"field":"x","type":"quantitative","scale":{"domain":[0,256],"nice":false,"zero":false},"axis":{"orient":"bottom","values":[0,16,32,48,64,80,96,112,128,144,160,176,192,208,224,240,256],"labels":false,"title":null,"tickSize":{"condition":{"test":"datum.value % 32 === 0","value":-5},"value":-3}}},"y":{"field":"y","type":"quantitative","scale":{"domain":[0,256],"nice":false,"zero":false},"axis":{"orient":"left","values":[0,16,32,48,64,80,96,112,128,144,160,176,192,208,224,240,256],"labels":false,"title":null,"tickSize":{"condition":{"test":"datum.value % 32 === 0","value":-5},"value":-3}}},"detail":{"field":"c","type":"nominal"},"order":{"value":null}}},
{"data":{"values":[{}]},"mark":{"type":"rect","fill":"white","stroke":"black","strokeWidth":1.3},"encoding":{"x":{"datum":0,"type":"quantitative","scale":{"domain":[0,256],"nice":false,"zero":false},"axis":{"orient":"top","values":[0,16,32,48,64,80,96,112,128,144,160,176,192,208,224,240,256],"labels":false,"title":null,"tickSize":{"condition":{"test":"datum.value % 32 === 0","value":-5},"value":-3}}},"x2":{"datum":33.6},"y":{"datum":233,"type":"quantitative","scale":{"domain":[0,256],"nice":false,"zero":false},"axis":{"orient":"right","values":[0,16,32,48,64,80,96,112,128,144,160,176,192,208,224,240,256],"labels":false,"title":null,"tickSize":{"condition":{"test":"datum.value % 32 === 0","value":-5},"value":-3}}},"y2":{"datum":256}}},
{"data":{"values":[{}]},"mark":{"type":"rect","fill":"white","stroke":"black","strokeWidth":1.3},"encoding":{"x":{"datum":219.5,"type":"quantitative","scale":{"domain":[0,256],"nice":false,"zero":false},"axis":null},"x2":{"datum":256},"y":{"datum":233,"type":"quantitative","scale":{"domain":[0,256],"nice":false,"zero":false},"axis":null},"y2":{"datum":256}}},
{"data":{"values":[{}]},"mark":{"type":"text","text":"a=11","font":"Liberation Serif","fontSize":15,"color":"black"},"encoding":{"x":{"datum":16.8,"type":"quantitative","scale":{"domain":[0,256],"nice":false,"zero":false},"axis":null},"y":{"datum":244.5,"type":"quantitative","scale":{"domain":[0,256],"nice":false,"zero":false},"axis":null}}},
{"data":{"values":[{}]},"mark":{"type":"text","text":"A119","font":"Liberation Serif","fontSize":15,"color":"black"},"encoding":{"x":{"datum":237.75,"type":"quantitative","scale":{"domain":[0,256],"nice":false,"zero":false},"axis":null},"y":{"datum":244.5,"type":"quantitative","scale":{"domain":[0,256],"nice":false,"zero":false},"axis":null}}}
]},
{"width":381,"height":380,"resolve":{"axis":{"x":"independent","y":"independent"}},"layer":[
{"data":{"name":"A119"},"mark":{"type":"circle","size":14,"color":"black","opacity":1},"encoding":{"x":{"field":"x","type":"quantitative","scale":{"domain":[0,256],"nice":false,"zero":false},"axis":{"orient":"bottom","values":[0,32,64,96,128,160,192,224,256],"ticks":false,"labelPadding":7,"title":null}},"y":{"field":"y","type":"quantitative","scale":{"domain":[0,256],"nice":false,"zero":false},"axis":{"orient":"left","values":[0,32,64,96,128,160,192,224,256],"ticks":false,"labelPadding":8,"title":null}}}},
{"data":{"name":"ct"},"transform":[{"filter":"datum.p==='119_16'"}],"mark":{"type":"line","interpolate":"cardinal-closed","color":"black","strokeWidth":1.4},"encoding":{"x":{"field":"x","type":"quantitative","scale":{"domain":[0,256],"nice":false,"zero":false},"axis":{"orient":"bottom","values":[0,16,32,48,64,80,96,112,128,144,160,176,192,208,224,240,256],"labels":false,"title":null,"tickSize":{"condition":{"test":"datum.value % 32 === 0","value":-5},"value":-3}}},"y":{"field":"y","type":"quantitative","scale":{"domain":[0,256],"nice":false,"zero":false},"axis":{"orient":"left","values":[0,16,32,48,64,80,96,112,128,144,160,176,192,208,224,240,256],"labels":false,"title":null,"tickSize":{"condition":{"test":"datum.value % 32 === 0","value":-5},"value":-3}}},"detail":{"field":"c","type":"nominal"},"order":{"value":null}}},
{"data":{"values":[{}]},"mark":{"type":"rect","fill":"white","stroke":"black","strokeWidth":1.3},"encoding":{"x":{"datum":0,"type":"quantitative","scale":{"domain":[0,256],"nice":false,"zero":false},"axis":{"orient":"top","values":[0,16,32,48,64,80,96,112,128,144,160,176,192,208,224,240,256],"labels":false,"title":null,"tickSize":{"condition":{"test":"datum.value % 32 === 0","value":-5},"value":-3}}},"x2":{"datum":33.6},"y":{"datum":233,"type":"quantitative","scale":{"domain":[0,256],"nice":false,"zero":false},"axis":{"orient":"right","values":[0,16,32,48,64,80,96,112,128,144,160,176,192,208,224,240,256],"labels":false,"title":null,"tickSize":{"condition":{"test":"datum.value % 32 === 0","value":-5},"value":-3}}},"y2":{"datum":256}}},
{"data":{"values":[{}]},"mark":{"type":"rect","fill":"white","stroke":"black","strokeWidth":1.3},"encoding":{"x":{"datum":219.5,"type":"quantitative","scale":{"domain":[0,256],"nice":false,"zero":false},"axis":null},"x2":{"datum":256},"y":{"datum":233,"type":"quantitative","scale":{"domain":[0,256],"nice":false,"zero":false},"axis":null},"y2":{"datum":256}}},
{"data":{"values":[{}]},"mark":{"type":"text","text":"a=16","font":"Liberation Serif","fontSize":15,"color":"black"},"encoding":{"x":{"datum":16.8,"type":"quantitative","scale":{"domain":[0,256],"nice":false,"zero":false},"axis":null},"y":{"datum":244.5,"type":"quantitative","scale":{"domain":[0,256],"nice":false,"zero":false},"axis":null}}},
{"data":{"values":[{}]},"mark":{"type":"text","text":"A119","font":"Liberation Serif","fontSize":15,"color":"black"},"encoding":{"x":{"datum":237.75,"type":"quantitative","scale":{"domain":[0,256],"nice":false,"zero":false},"axis":null},"y":{"datum":244.5,"type":"quantitative","scale":{"domain":[0,256],"nice":false,"zero":false},"axis":null}}}
]},
{"width":381,"height":380,"resolve":{"axis":{"x":"independent","y":"independent"}},"layer":[
{"data":{"name":"A119"},"mark":{"type":"circle","size":14,"color":"black","opacity":1},"encoding":{"x":{"field":"x","type":"quantitative","scale":{"domain":[0,256],"nice":false,"zero":false},"axis":{"orient":"bottom","values":[0,32,64,96,128,160,192,224,256],"ticks":false,"labelPadding":7,"title":null}},"y":{"field":"y","type":"quantitative","scale":{"domain":[0,256],"nice":false,"zero":false},"axis":{"orient":"left","values":[0,32,64,96,128,160,192,224,256],"ticks":false,"labelPadding":8,"title":null}}}},
{"data":{"name":"ct"},"transform":[{"filter":"datum.p==='119_22'"}],"mark":{"type":"line","interpolate":"cardinal-closed","color":"black","strokeWidth":1.4},"encoding":{"x":{"field":"x","type":"quantitative","scale":{"domain":[0,256],"nice":false,"zero":false},"axis":{"orient":"bottom","values":[0,16,32,48,64,80,96,112,128,144,160,176,192,208,224,240,256],"labels":false,"title":null,"tickSize":{"condition":{"test":"datum.value % 32 === 0","value":-5},"value":-3}}},"y":{"field":"y","type":"quantitative","scale":{"domain":[0,256],"nice":false,"zero":false},"axis":{"orient":"left","values":[0,16,32,48,64,80,96,112,128,144,160,176,192,208,224,240,256],"labels":false,"title":null,"tickSize":{"condition":{"test":"datum.value % 32 === 0","value":-5},"value":-3}}},"detail":{"field":"c","type":"nominal"},"order":{"value":null}}},
{"data":{"values":[{}]},"mark":{"type":"rect","fill":"white","stroke":"black","strokeWidth":1.3},"encoding":{"x":{"datum":0,"type":"quantitative","scale":{"domain":[0,256],"nice":false,"zero":false},"axis":{"orient":"top","values":[0,16,32,48,64,80,96,112,128,144,160,176,192,208,224,240,256],"labels":false,"title":null,"tickSize":{"condition":{"test":"datum.value % 32 === 0","value":-5},"value":-3}}},"x2":{"datum":33.6},"y":{"datum":233,"type":"quantitative","scale":{"domain":[0,256],"nice":false,"zero":false},"axis":{"orient":"right","values":[0,16,32,48,64,80,96,112,128,144,160,176,192,208,224,240,256],"labels":false,"title":null,"tickSize":{"condition":{"test":"datum.value % 32 === 0","value":-5},"value":-3}}},"y2":{"datum":256}}},
{"data":{"values":[{}]},"mark":{"type":"rect","fill":"white","stroke":"black","strokeWidth":1.3},"encoding":{"x":{"datum":219.5,"type":"quantitative","scale":{"domain":[0,256],"nice":false,"zero":false},"axis":null},"x2":{"datum":256},"y":{"datum":233,"type":"quantitative","scale":{"domain":[0,256],"nice":false,"zero":false},"axis":null},"y2":{"datum":256}}},
{"data":{"values":[{}]},"mark":{"type":"text","text":"a=22","font":"Liberation Serif","fontSize":15,"color":"black"},"encoding":{"x":{"datum":16.8,"type":"quantitative","scale":{"domain":[0,256],"nice":false,"zero":false},"axis":null},"y":{"datum":244.5,"type":"quantitative","scale":{"domain":[0,256],"nice":false,"zero":false},"axis":null}}},
{"data":{"values":[{}]},"mark":{"type":"text","text":"A119","font":"Liberation Serif","fontSize":15,"color":"black"},"encoding":{"x":{"datum":237.75,"type":"quantitative","scale":{"domain":[0,256],"nice":false,"zero":false},"axis":null},"y":{"datum":244.5,"type":"quantitative","scale":{"domain":[0,256],"nice":false,"zero":false},"axis":null}}}
]},
{"width":381,"height":380,"resolve":{"axis":{"x":"independent","y":"independent"}},"layer":[
{"data":{"name":"A119"},"mark":{"type":"circle","size":14,"color":"black","opacity":1},"encoding":{"x":{"field":"x","type":"quantitative","scale":{"domain":[0,256],"nice":false,"zero":false},"axis":{"orient":"bottom","values":[0,32,64,96,128,160,192,224,256],"ticks":false,"labelPadding":7,"title":null}},"y":{"field":"y","type":"quantitative","scale":{"domain":[0,256],"nice":false,"zero":false},"axis":{"orient":"left","values":[0,32,64,96,128,160,192,224,256],"ticks":false,"labelPadding":8,"title":null}}}},
{"data":{"name":"ct"},"transform":[{"filter":"datum.p==='119_32'"}],"mark":{"type":"line","interpolate":"cardinal-closed","color":"black","strokeWidth":1.4},"encoding":{"x":{"field":"x","type":"quantitative","scale":{"domain":[0,256],"nice":false,"zero":false},"axis":{"orient":"bottom","values":[0,16,32,48,64,80,96,112,128,144,160,176,192,208,224,240,256],"labels":false,"title":null,"tickSize":{"condition":{"test":"datum.value % 32 === 0","value":-5},"value":-3}}},"y":{"field":"y","type":"quantitative","scale":{"domain":[0,256],"nice":false,"zero":false},"axis":{"orient":"left","values":[0,16,32,48,64,80,96,112,128,144,160,176,192,208,224,240,256],"labels":false,"title":null,"tickSize":{"condition":{"test":"datum.value % 32 === 0","value":-5},"value":-3}}},"detail":{"field":"c","type":"nominal"},"order":{"value":null}}},
{"data":{"values":[{}]},"mark":{"type":"rect","fill":"white","stroke":"black","strokeWidth":1.3},"encoding":{"x":{"datum":0,"type":"quantitative","scale":{"domain":[0,256],"nice":false,"zero":false},"axis":{"orient":"top","values":[0,16,32,48,64,80,96,112,128,144,160,176,192,208,224,240,256],"labels":false,"title":null,"tickSize":{"condition":{"test":"datum.value % 32 === 0","value":-5},"value":-3}}},"x2":{"datum":33.6},"y":{"datum":233,"type":"quantitative","scale":{"domain":[0,256],"nice":false,"zero":false},"axis":{"orient":"right","values":[0,16,32,48,64,80,96,112,128,144,160,176,192,208,224,240,256],"labels":false,"title":null,"tickSize":{"condition":{"test":"datum.value % 32 === 0","value":-5},"value":-3}}},"y2":{"datum":256}}},
{"data":{"values":[{}]},"mark":{"type":"rect","fill":"white","stroke":"black","strokeWidth":1.3},"encoding":{"x":{"datum":219.5,"type":"quantitative","scale":{"domain":[0,256],"nice":false,"zero":false},"axis":null},"x2":{"datum":256},"y":{"datum":233,"type":"quantitative","scale":{"domain":[0,256],"nice":false,"zero":false},"axis":null},"y2":{"datum":256}}},
{"data":{"values":[{}]},"mark":{"type":"text","text":"a=32","font":"Liberation Serif","fontSize":15,"color":"black"},"encoding":{"x":{"datum":16.8,"type":"quantitative","scale":{"domain":[0,256],"nice":false,"zero":false},"axis":null},"y":{"datum":244.5,"type":"quantitative","scale":{"domain":[0,256],"nice":false,"zero":false},"axis":null}}},
{"data":{"values":[{}]},"mark":{"type":"text","text":"A119","font":"Liberation Serif","fontSize":15,"color":"black"},"encoding":{"x":{"datum":237.75,"type":"quantitative","scale":{"domain":[0,256],"nice":false,"zero":false},"axis":null},"y":{"datum":244.5,"type":"quantitative","scale":{"domain":[0,256],"nice":false,"zero":false},"axis":null}}}
]},
{"width":381,"height":380,"resolve":{"axis":{"x":"independent","y":"independent"}},"layer":[
{"data":{"name":"A119"},"mark":{"type":"circle","size":14,"color":"black","opacity":1},"encoding":{"x":{"field":"x","type":"quantitative","scale":{"domain":[0,256],"nice":false,"zero":false},"axis":{"orient":"bottom","values":[0,32,64,96,128,160,192,224,256],"ticks":false,"labelPadding":7,"title":null}},"y":{"field":"y","type":"quantitative","scale":{"domain":[0,256],"nice":false,"zero":false},"axis":{"orient":"left","values":[0,32,64,96,128,160,192,224,256],"ticks":false,"labelPadding":8,"title":null}}}},
{"data":{"name":"ct"},"transform":[{"filter":"datum.p==='119_45'"}],"mark":{"type":"line","interpolate":"cardinal-closed","color":"black","strokeWidth":1.4},"encoding":{"x":{"field":"x","type":"quantitative","scale":{"domain":[0,256],"nice":false,"zero":false},"axis":{"orient":"bottom","values":[0,16,32,48,64,80,96,112,128,144,160,176,192,208,224,240,256],"labels":false,"title":null,"tickSize":{"condition":{"test":"datum.value % 32 === 0","value":-5},"value":-3}}},"y":{"field":"y","type":"quantitative","scale":{"domain":[0,256],"nice":false,"zero":false},"axis":{"orient":"left","values":[0,16,32,48,64,80,96,112,128,144,160,176,192,208,224,240,256],"labels":false,"title":null,"tickSize":{"condition":{"test":"datum.value % 32 === 0","value":-5},"value":-3}}},"detail":{"field":"c","type":"nominal"},"order":{"value":null}}},
{"data":{"values":[{}]},"mark":{"type":"rect","fill":"white","stroke":"black","strokeWidth":1.3},"encoding":{"x":{"datum":0,"type":"quantitative","scale":{"domain":[0,256],"nice":false,"zero":false},"axis":{"orient":"top","values":[0,16,32,48,64,80,96,112,128,144,160,176,192,208,224,240,256],"labels":false,"title":null,"tickSize":{"condition":{"test":"datum.value % 32 === 0","value":-5},"value":-3}}},"x2":{"datum":33.6},"y":{"datum":233,"type":"quantitative","scale":{"domain":[0,256],"nice":false,"zero":false},"axis":{"orient":"right","values":[0,16,32,48,64,80,96,112,128,144,160,176,192,208,224,240,256],"labels":false,"title":null,"tickSize":{"condition":{"test":"datum.value % 32 === 0","value":-5},"value":-3}}},"y2":{"datum":256}}},
{"data":{"values":[{}]},"mark":{"type":"rect","fill":"white","stroke":"black","strokeWidth":1.3},"encoding":{"x":{"datum":219.5,"type":"quantitative","scale":{"domain":[0,256],"nice":false,"zero":false},"axis":null},"x2":{"datum":256},"y":{"datum":233,"type":"quantitative","scale":{"domain":[0,256],"nice":false,"zero":false},"axis":null},"y2":{"datum":256}}},
{"data":{"values":[{}]},"mark":{"type":"text","text":"a=45","font":"Liberation Serif","fontSize":15,"color":"black"},"encoding":{"x":{"datum":16.8,"type":"quantitative","scale":{"domain":[0,256],"nice":false,"zero":false},"axis":null},"y":{"datum":244.5,"type":"quantitative","scale":{"domain":[0,256],"nice":false,"zero":false},"axis":null}}},
{"data":{"values":[{}]},"mark":{"type":"text","text":"A119","font":"Liberation Serif","fontSize":15,"color":"black"},"encoding":{"x":{"datum":237.75,"type":"quantitative","scale":{"domain":[0,256],"nice":false,"zero":false},"axis":null},"y":{"datum":244.5,"type":"quantitative","scale":{"domain":[0,256],"nice":false,"zero":false},"axis":null}}}
]},
{"width":381,"height":380,"resolve":{"axis":{"x":"independent","y":"independent"}},"layer":[
{"data":{"name":"A119"},"mark":{"type":"circle","size":14,"color":"black","opacity":1},"encoding":{"x":{"field":"x","type":"quantitative","scale":{"domain":[0,256],"nice":false,"zero":false},"axis":{"orient":"bottom","values":[0,32,64,96,128,160,192,224,256],"ticks":false,"labelPadding":7,"title":null}},"y":{"field":"y","type":"quantitative","scale":{"domain":[0,256],"nice":false,"zero":false},"axis":{"orient":"left","values":[0,32,64,96,128,160,192,224,256],"ticks":false,"labelPadding":8,"title":null}}}},
{"data":{"name":"ct"},"transform":[{"filter":"datum.p==='119_64'"}],"mark":{"type":"line","interpolate":"cardinal-closed","color":"black","strokeWidth":1.4},"encoding":{"x":{"field":"x","type":"quantitative","scale":{"domain":[0,256],"nice":false,"zero":false},"axis":{"orient":"bottom","values":[0,16,32,48,64,80,96,112,128,144,160,176,192,208,224,240,256],"labels":false,"title":null,"tickSize":{"condition":{"test":"datum.value % 32 === 0","value":-5},"value":-3}}},"y":{"field":"y","type":"quantitative","scale":{"domain":[0,256],"nice":false,"zero":false},"axis":{"orient":"left","values":[0,16,32,48,64,80,96,112,128,144,160,176,192,208,224,240,256],"labels":false,"title":null,"tickSize":{"condition":{"test":"datum.value % 32 === 0","value":-5},"value":-3}}},"detail":{"field":"c","type":"nominal"},"order":{"value":null}}},
{"data":{"values":[{}]},"mark":{"type":"rect","fill":"white","stroke":"black","strokeWidth":1.3},"encoding":{"x":{"datum":0,"type":"quantitative","scale":{"domain":[0,256],"nice":false,"zero":false},"axis":{"orient":"top","values":[0,16,32,48,64,80,96,112,128,144,160,176,192,208,224,240,256],"labels":false,"title":null,"tickSize":{"condition":{"test":"datum.value % 32 === 0","value":-5},"value":-3}}},"x2":{"datum":33.6},"y":{"datum":233,"type":"quantitative","scale":{"domain":[0,256],"nice":false,"zero":false},"axis":{"orient":"right","values":[0,16,32,48,64,80,96,112,128,144,160,176,192,208,224,240,256],"labels":false,"title":null,"tickSize":{"condition":{"test":"datum.value % 32 === 0","value":-5},"value":-3}}},"y2":{"datum":256}}},
{"data":{"values":[{}]},"mark":{"type":"rect","fill":"white","stroke":"black","strokeWidth":1.3},"encoding":{"x":{"datum":219.5,"type":"quantitative","scale":{"domain":[0,256],"nice":false,"zero":false},"axis":null},"x2":{"datum":256},"y":{"datum":233,"type":"quantitative","scale":{"domain":[0,256],"nice":false,"zero":false},"axis":null},"y2":{"datum":256}}},
{"data":{"values":[{}]},"mark":{"type":"text","text":"a=64","font":"Liberation Serif","fontSize":15,"color":"black"},"encoding":{"x":{"datum":16.8,"type":"quantitative","scale":{"domain":[0,256],"nice":false,"zero":false},"axis":null},"y":{"datum":244.5,"type":"quantitative","scale":{"domain":[0,256],"nice":false,"zero":false},"axis":null}}},
{"data":{"values":[{}]},"mark":{"type":"text","text":"A119","font":"Liberation Serif","fontSize":15,"color":"black"},"encoding":{"x":{"datum":237.75,"type":"quantitative","scale":{"domain":[0,256],"nice":false,"zero":false},"axis":null},"y":{"datum":244.5,"type":"quantitative","scale":{"domain":[0,256],"nice":false,"zero":false},"axis":null}}}
]},
{"width":381,"height":380,"resolve":{"axis":{"x":"independent","y":"independent"}},"layer":[
{"data":{"name":"A133"},"mark":{"type":"circle","size":14,"color":"black","opacity":1},"encoding":{"x":{"field":"x","type":"quantitative","scale":{"domain":[0,256],"nice":false,"zero":false},"axis":{"orient":"bottom","values":[0,32,64,96,128,160,192,224,256],"ticks":false,"labelPadding":7,"title":null}},"y":{"field":"y","type":"quantitative","scale":{"domain":[0,256],"nice":false,"zero":false},"axis":{"orient":"left","values":[0,32,64,96,128,160,192,224,256],"ticks":false,"labelPadding":8,"title":null}}}},
{"data":{"name":"ct"},"transform":[{"filter":"datum.p==='133_11'"}],"mark":{"type":"line","interpolate":"cardinal-closed","color":"black","strokeWidth":1.4},"encoding":{"x":{"field":"x","type":"quantitative","scale":{"domain":[0,256],"nice":false,"zero":false},"axis":{"orient":"bottom","values":[0,16,32,48,64,80,96,112,128,144,160,176,192,208,224,240,256],"labels":false,"title":null,"tickSize":{"condition":{"test":"datum.value % 32 === 0","value":-5},"value":-3}}},"y":{"field":"y","type":"quantitative","scale":{"domain":[0,256],"nice":false,"zero":false},"axis":{"orient":"left","values":[0,16,32,48,64,80,96,112,128,144,160,176,192,208,224,240,256],"labels":false,"title":null,"tickSize":{"condition":{"test":"datum.value % 32 === 0","value":-5},"value":-3}}},"detail":{"field":"c","type":"nominal"},"order":{"value":null}}},
{"data":{"values":[{}]},"mark":{"type":"rect","fill":"white","stroke":"black","strokeWidth":1.3},"encoding":{"x":{"datum":0,"type":"quantitative","scale":{"domain":[0,256],"nice":false,"zero":false},"axis":{"orient":"top","values":[0,16,32,48,64,80,96,112,128,144,160,176,192,208,224,240,256],"labels":false,"title":null,"tickSize":{"condition":{"test":"datum.value % 32 === 0","value":-5},"value":-3}}},"x2":{"datum":33.6},"y":{"datum":233,"type":"quantitative","scale":{"domain":[0,256],"nice":false,"zero":false},"axis":{"orient":"right","values":[0,16,32,48,64,80,96,112,128,144,160,176,192,208,224,240,256],"labels":false,"title":null,"tickSize":{"condition":{"test":"datum.value % 32 === 0","value":-5},"value":-3}}},"y2":{"datum":256}}},
{"data":{"values":[{}]},"mark":{"type":"rect","fill":"white","stroke":"black","strokeWidth":1.3},"encoding":{"x":{"datum":219.5,"type":"quantitative","scale":{"domain":[0,256],"nice":false,"zero":false},"axis":null},"x2":{"datum":256},"y":{"datum":233,"type":"quantitative","scale":{"domain":[0,256],"nice":false,"zero":false},"axis":null},"y2":{"datum":256}}},
{"data":{"values":[{}]},"mark":{"type":"text","text":"a=11","font":"Liberation Serif","fontSize":15,"color":"black"},"encoding":{"x":{"datum":16.8,"type":"quantitative","scale":{"domain":[0,256],"nice":false,"zero":false},"axis":null},"y":{"datum":244.5,"type":"quantitative","scale":{"domain":[0,256],"nice":false,"zero":false},"axis":null}}},
{"data":{"values":[{}]},"mark":{"type":"text","text":"A133","font":"Liberation Serif","fontSize":15,"color":"black"},"encoding":{"x":{"datum":237.75,"type":"quantitative","scale":{"domain":[0,256],"nice":false,"zero":false},"axis":null},"y":{"datum":244.5,"type":"quantitative","scale":{"domain":[0,256],"nice":false,"zero":false},"axis":null}}}
]},
{"width":381,"height":380,"resolve":{"axis":{"x":"independent","y":"independent"}},"layer":[
{"data":{"name":"A133"},"mark":{"type":"circle","size":14,"color":"black","opacity":1},"encoding":{"x":{"field":"x","type":"quantitative","scale":{"domain":[0,256],"nice":false,"zero":false},"axis":{"orient":"bottom","values":[0,32,64,96,128,160,192,224,256],"ticks":false,"labelPadding":7,"title":null}},"y":{"field":"y","type":"quantitative","scale":{"domain":[0,256],"nice":false,"zero":false},"axis":{"orient":"left","values":[0,32,64,96,128,160,192,224,256],"ticks":false,"labelPadding":8,"title":null}}}},
{"data":{"name":"ct"},"transform":[{"filter":"datum.p==='133_16'"}],"mark":{"type":"line","interpolate":"cardinal-closed","color":"black","strokeWidth":1.4},"encoding":{"x":{"field":"x","type":"quantitative","scale":{"domain":[0,256],"nice":false,"zero":false},"axis":{"orient":"bottom","values":[0,16,32,48,64,80,96,112,128,144,160,176,192,208,224,240,256],"labels":false,"title":null,"tickSize":{"condition":{"test":"datum.value % 32 === 0","value":-5},"value":-3}}},"y":{"field":"y","type":"quantitative","scale":{"domain":[0,256],"nice":false,"zero":false},"axis":{"orient":"left","values":[0,16,32,48,64,80,96,112,128,144,160,176,192,208,224,240,256],"labels":false,"title":null,"tickSize":{"condition":{"test":"datum.value % 32 === 0","value":-5},"value":-3}}},"detail":{"field":"c","type":"nominal"},"order":{"value":null}}},
{"data":{"values":[{}]},"mark":{"type":"rect","fill":"white","stroke":"black","strokeWidth":1.3},"encoding":{"x":{"datum":0,"type":"quantitative","scale":{"domain":[0,256],"nice":false,"zero":false},"axis":{"orient":"top","values":[0,16,32,48,64,80,96,112,128,144,160,176,192,208,224,240,256],"labels":false,"title":null,"tickSize":{"condition":{"test":"datum.value % 32 === 0","value":-5},"value":-3}}},"x2":{"datum":33.6},"y":{"datum":233,"type":"quantitative","scale":{"domain":[0,256],"nice":false,"zero":false},"axis":{"orient":"right","values":[0,16,32,48,64,80,96,112,128,144,160,176,192,208,224,240,256],"labels":false,"title":null,"tickSize":{"condition":{"test":"datum.value % 32 === 0","value":-5},"value":-3}}},"y2":{"datum":256}}},
{"data":{"values":[{}]},"mark":{"type":"rect","fill":"white","stroke":"black","strokeWidth":1.3},"encoding":{"x":{"datum":219.5,"type":"quantitative","scale":{"domain":[0,256],"nice":false,"zero":false},"axis":null},"x2":{"datum":256},"y":{"datum":233,"type":"quantitative","scale":{"domain":[0,256],"nice":false,"zero":false},"axis":null},"y2":{"datum":256}}},
{"data":{"values":[{}]},"mark":{"type":"text","text":"a=16","font":"Liberation Serif","fontSize":15,"color":"black"},"encoding":{"x":{"datum":16.8,"type":"quantitative","scale":{"domain":[0,256],"nice":false,"zero":false},"axis":null},"y":{"datum":244.5,"type":"quantitative","scale":{"domain":[0,256],"nice":false,"zero":false},"axis":null}}},
{"data":{"values":[{}]},"mark":{"type":"text","text":"A133","font":"Liberation Serif","fontSize":15,"color":"black"},"encoding":{"x":{"datum":237.75,"type":"quantitative","scale":{"domain":[0,256],"nice":false,"zero":false},"axis":null},"y":{"datum":244.5,"type":"quantitative","scale":{"domain":[0,256],"nice":false,"zero":false},"axis":null}}}
]},
{"width":381,"height":380,"resolve":{"axis":{"x":"independent","y":"independent"}},"layer":[
{"data":{"name":"A133"},"mark":{"type":"circle","size":14,"color":"black","opacity":1},"encoding":{"x":{"field":"x","type":"quantitative","scale":{"domain":[0,256],"nice":false,"zero":false},"axis":{"orient":"bottom","values":[0,32,64,96,128,160,192,224,256],"ticks":false,"labelPadding":7,"title":null}},"y":{"field":"y","type":"quantitative","scale":{"domain":[0,256],"nice":false,"zero":false},"axis":{"orient":"left","values":[0,32,64,96,128,160,192,224,256],"ticks":false,"labelPadding":8,"title":null}}}},
{"data":{"name":"ct"},"transform":[{"filter":"datum.p==='133_22'"}],"mark":{"type":"line","interpolate":"cardinal-closed","color":"black","strokeWidth":1.4},"encoding":{"x":{"field":"x","type":"quantitative","scale":{"domain":[0,256],"nice":false,"zero":false},"axis":{"orient":"bottom","values":[0,16,32,48,64,80,96,112,128,144,160,176,192,208,224,240,256],"labels":false,"title":null,"tickSize":{"condition":{"test":"datum.value % 32 === 0","value":-5},"value":-3}}},"y":{"field":"y","type":"quantitative","scale":{"domain":[0,256],"nice":false,"zero":false},"axis":{"orient":"left","values":[0,16,32,48,64,80,96,112,128,144,160,176,192,208,224,240,256],"labels":false,"title":null,"tickSize":{"condition":{"test":"datum.value % 32 === 0","value":-5},"value":-3}}},"detail":{"field":"c","type":"nominal"},"order":{"value":null}}},
{"data":{"values":[{}]},"mark":{"type":"rect","fill":"white","stroke":"black","strokeWidth":1.3},"encoding":{"x":{"datum":0,"type":"quantitative","scale":{"domain":[0,256],"nice":false,"zero":false},"axis":{"orient":"top","values":[0,16,32,48,64,80,96,112,128,144,160,176,192,208,224,240,256],"labels":false,"title":null,"tickSize":{"condition":{"test":"datum.value % 32 === 0","value":-5},"value":-3}}},"x2":{"datum":33.6},"y":{"datum":233,"type":"quantitative","scale":{"domain":[0,256],"nice":false,"zero":false},"axis":{"orient":"right","values":[0,16,32,48,64,80,96,112,128,144,160,176,192,208,224,240,256],"labels":false,"title":null,"tickSize":{"condition":{"test":"datum.value % 32 === 0","value":-5},"value":-3}}},"y2":{"datum":256}}},
{"data":{"values":[{}]},"mark":{"type":"rect","fill":"white","stroke":"black","strokeWidth":1.3},"encoding":{"x":{"datum":219.5,"type":"quantitative","scale":{"domain":[0,256],"nice":false,"zero":false},"axis":null},"x2":{"datum":256},"y":{"datum":233,"type":"quantitative","scale":{"domain":[0,256],"nice":false,"zero":false},"axis":null},"y2":{"datum":256}}},
{"data":{"values":[{}]},"mark":{"type":"text","text":"a=22","font":"Liberation Serif","fontSize":15,"color":"black"},"encoding":{"x":{"datum":16.8,"type":"quantitative","scale":{"domain":[0,256],"nice":false,"zero":false},"axis":null},"y":{"datum":244.5,"type":"quantitative","scale":{"domain":[0,256],"nice":false,"zero":false},"axis":null}}},
{"data":{"values":[{}]},"mark":{"type":"text","text":"A133","font":"Liberation Serif","fontSize":15,"color":"black"},"encoding":{"x":{"datum":237.75,"type":"quantitative","scale":{"domain":[0,256],"nice":false,"zero":false},"axis":null},"y":{"datum":244.5,"type":"quantitative","scale":{"domain":[0,256],"nice":false,"zero":false},"axis":null}}}
]},
{"width":381,"height":380,"resolve":{"axis":{"x":"independent","y":"independent"}},"layer":[
{"data":{"name":"A133"},"mark":{"type":"circle","size":14,"color":"black","opacity":1},"encoding":{"x":{"field":"x","type":"quantitative","scale":{"domain":[0,256],"nice":false,"zero":false},"axis":{"orient":"bottom","values":[0,32,64,96,128,160,192,224,256],"ticks":false,"labelPadding":7,"title":null}},"y":{"field":"y","type":"quantitative","scale":{"domain":[0,256],"nice":false,"zero":false},"axis":{"orient":"left","values":[0,32,64,96,128,160,192,224,256],"ticks":false,"labelPadding":8,"title":null}}}},
{"data":{"name":"ct"},"transform":[{"filter":"datum.p==='133_32'"}],"mark":{"type":"line","interpolate":"cardinal-closed","color":"black","strokeWidth":1.4},"encoding":{"x":{"field":"x","type":"quantitative","scale":{"domain":[0,256],"nice":false,"zero":false},"axis":{"orient":"bottom","values":[0,16,32,48,64,80,96,112,128,144,160,176,192,208,224,240,256],"labels":false,"title":null,"tickSize":{"condition":{"test":"datum.value % 32 === 0","value":-5},"value":-3}}},"y":{"field":"y","type":"quantitative","scale":{"domain":[0,256],"nice":false,"zero":false},"axis":{"orient":"left","values":[0,16,32,48,64,80,96,112,128,144,160,176,192,208,224,240,256],"labels":false,"title":null,"tickSize":{"condition":{"test":"datum.value % 32 === 0","value":-5},"value":-3}}},"detail":{"field":"c","type":"nominal"},"order":{"value":null}}},
{"data":{"values":[{}]},"mark":{"type":"rect","fill":"white","stroke":"black","strokeWidth":1.3},"encoding":{"x":{"datum":0,"type":"quantitative","scale":{"domain":[0,256],"nice":false,"zero":false},"axis":{"orient":"top","values":[0,16,32,48,64,80,96,112,128,144,160,176,192,208,224,240,256],"labels":false,"title":null,"tickSize":{"condition":{"test":"datum.value % 32 === 0","value":-5},"value":-3}}},"x2":{"datum":33.6},"y":{"datum":233,"type":"quantitative","scale":{"domain":[0,256],"nice":false,"zero":false},"axis":{"orient":"right","values":[0,16,32,48,64,80,96,112,128,144,160,176,192,208,224,240,256],"labels":false,"title":null,"tickSize":{"condition":{"test":"datum.value % 32 === 0","value":-5},"value":-3}}},"y2":{"datum":256}}},
{"data":{"values":[{}]},"mark":{"type":"rect","fill":"white","stroke":"black","strokeWidth":1.3},"encoding":{"x":{"datum":219.5,"type":"quantitative","scale":{"domain":[0,256],"nice":false,"zero":false},"axis":null},"x2":{"datum":256},"y":{"datum":233,"type":"quantitative","scale":{"domain":[0,256],"nice":false,"zero":false},"axis":null},"y2":{"datum":256}}},
{"data":{"values":[{}]},"mark":{"type":"text","text":"a=32","font":"Liberation Serif","fontSize":15,"color":"black"},"encoding":{"x":{"datum":16.8,"type":"quantitative","scale":{"domain":[0,256],"nice":false,"zero":false},"axis":null},"y":{"datum":244.5,"type":"quantitative","scale":{"domain":[0,256],"nice":false,"zero":false},"axis":null}}},
{"data":{"values":[{}]},"mark":{"type":"text","text":"A133","font":"Liberation Serif","fontSize":15,"color":"black"},"encoding":{"x":{"datum":237.75,"type":"quantitative","scale":{"domain":[0,256],"nice":false,"zero":false},"axis":null},"y":{"datum":244.5,"type":"quantitative","scale":{"domain":[0,256],"nice":false,"zero":false},"axis":null}}}
]},
{"width":381,"height":380,"resolve":{"axis":{"x":"independent","y":"independent"}},"layer":[
{"data":{"name":"A133"},"mark":{"type":"circle","size":14,"color":"black","opacity":1},"encoding":{"x":{"field":"x","type":"quantitative","scale":{"domain":[0,256],"nice":false,"zero":false},"axis":{"orient":"bottom","values":[0,32,64,96,128,160,192,224,256],"ticks":false,"labelPadding":7,"title":null}},"y":{"field":"y","type":"quantitative","scale":{"domain":[0,256],"nice":false,"zero":false},"axis":{"orient":"left","values":[0,32,64,96,128,160,192,224,256],"ticks":false,"labelPadding":8,"title":null}}}},
{"data":{"name":"ct"},"transform":[{"filter":"datum.p==='133_45'"}],"mark":{"type":"line","interpolate":"cardinal-closed","color":"black","strokeWidth":1.4},"encoding":{"x":{"field":"x","type":"quantitative","scale":{"domain":[0,256],"nice":false,"zero":false},"axis":{"orient":"bottom","values":[0,16,32,48,64,80,96,112,128,144,160,176,192,208,224,240,256],"labels":false,"title":null,"tickSize":{"condition":{"test":"datum.value % 32 === 0","value":-5},"value":-3}}},"y":{"field":"y","type":"quantitative","scale":{"domain":[0,256],"nice":false,"zero":false},"axis":{"orient":"left","values":[0,16,32,48,64,80,96,112,128,144,160,176,192,208,224,240,256],"labels":false,"title":null,"tickSize":{"condition":{"test":"datum.value % 32 === 0","value":-5},"value":-3}}},"detail":{"field":"c","type":"nominal"},"order":{"value":null}}},
{"data":{"values":[{}]},"mark":{"type":"rect","fill":"white","stroke":"black","strokeWidth":1.3},"encoding":{"x":{"datum":0,"type":"quantitative","scale":{"domain":[0,256],"nice":false,"zero":false},"axis":{"orient":"top","values":[0,16,32,48,64,80,96,112,128,144,160,176,192,208,224,240,256],"labels":false,"title":null,"tickSize":{"condition":{"test":"datum.value % 32 === 0","value":-5},"value":-3}}},"x2":{"datum":33.6},"y":{"datum":233,"type":"quantitative","scale":{"domain":[0,256],"nice":false,"zero":false},"axis":{"orient":"right","values":[0,16,32,48,64,80,96,112,128,144,160,176,192,208,224,240,256],"labels":false,"title":null,"tickSize":{"condition":{"test":"datum.value % 32 === 0","value":-5},"value":-3}}},"y2":{"datum":256}}},
{"data":{"values":[{}]},"mark":{"type":"rect","fill":"white","stroke":"black","strokeWidth":1.3},"encoding":{"x":{"datum":219.5,"type":"quantitative","scale":{"domain":[0,256],"nice":false,"zero":false},"axis":null},"x2":{"datum":256},"y":{"datum":233,"type":"quantitative","scale":{"domain":[0,256],"nice":false,"zero":false},"axis":null},"y2":{"datum":256}}},
{"data":{"values":[{}]},"mark":{"type":"text","text":"a=45","font":"Liberation Serif","fontSize":15,"color":"black"},"encoding":{"x":{"datum":16.8,"type":"quantitative","scale":{"domain":[0,256],"nice":false,"zero":false},"axis":null},"y":{"datum":244.5,"type":"quantitative","scale":{"domain":[0,256],"nice":false,"zero":false},"axis":null}}},
{"data":{"values":[{}]},"mark":{"type":"text","text":"A133","font":"Liberation Serif","fontSize":15,"color":"black"},"encoding":{"x":{"datum":237.75,"type":"quantitative","scale":{"domain":[0,256],"nice":false,"zero":false},"axis":null},"y":{"datum":244.5,"type":"quantitative","scale":{"domain":[0,256],"nice":false,"zero":false},"axis":null}}}
]},
{"width":381,"height":380,"resolve":{"axis":{"x":"independent","y":"independent"}},"layer":[
{"data":{"name":"A133"},"mark":{"type":"circle","size":14,"color":"black","opacity":1},"encoding":{"x":{"field":"x","type":"quantitative","scale":{"domain":[0,256],"nice":false,"zero":false},"axis":{"orient":"bottom","values":[0,32,64,96,128,160,192,224,256],"ticks":false,"labelPadding":7,"title":null}},"y":{"field":"y","type":"quantitative","scale":{"domain":[0,256],"nice":false,"zero":false},"axis":{"orient":"left","values":[0,32,64,96,128,160,192,224,256],"ticks":false,"labelPadding":8,"title":null}}}},
{"data":{"name":"ct"},"transform":[{"filter":"datum.p==='133_64'"}],"mark":{"type":"line","interpolate":"cardinal-closed","color":"black","strokeWidth":1.4},"encoding":{"x":{"field":"x","type":"quantitative","scale":{"domain":[0,256],"nice":false,"zero":false},"axis":{"orient":"bottom","values":[0,16,32,48,64,80,96,112,128,144,160,176,192,208,224,240,256],"labels":false,"title":null,"tickSize":{"condition":{"test":"datum.value % 32 === 0","value":-5},"value":-3}}},"y":{"field":"y","type":"quantitative","scale":{"domain":[0,256],"nice":false,"zero":false},"axis":{"orient":"left","values":[0,16,32,48,64,80,96,112,128,144,160,176,192,208,224,240,256],"labels":false,"title":null,"tickSize":{"condition":{"test":"datum.value % 32 === 0","value":-5},"value":-3}}},"detail":{"field":"c","type":"nominal"},"order":{"value":null}}},
{"data":{"values":[{}]},"mark":{"type":"rect","fill":"white","stroke":"black","strokeWidth":1.3},"encoding":{"x":{"datum":0,"type":"quantitative","scale":{"domain":[0,256],"nice":false,"zero":false},"axis":{"orient":"top","values":[0,16,32,48,64,80,96,112,128,144,160,176,192,208,224,240,256],"labels":false,"title":null,"tickSize":{"condition":{"test":"datum.value % 32 === 0","value":-5},"value":-3}}},"x2":{"datum":33.6},"y":{"datum":233,"type":"quantitative","scale":{"domain":[0,256],"nice":false,"zero":false},"axis":{"orient":"right","values":[0,16,32,48,64,80,96,112,128,144,160,176,192,208,224,240,256],"labels":false,"title":null,"tickSize":{"condition":{"test":"datum.value % 32 === 0","value":-5},"value":-3}}},"y2":{"datum":256}}},
{"data":{"values":[{}]},"mark":{"type":"rect","fill":"white","stroke":"black","strokeWidth":1.3},"encoding":{"x":{"datum":219.5,"type":"quantitative","scale":{"domain":[0,256],"nice":false,"zero":false},"axis":null},"x2":{"datum":256},"y":{"datum":233,"type":"quantitative","scale":{"domain":[0,256],"nice":false,"zero":false},"axis":null},"y2":{"datum":256}}},
{"data":{"values":[{}]},"mark":{"type":"text","text":"a=64","font":"Liberation Serif","fontSize":15,"color":"black"},"encoding":{"x":{"datum":16.8,"type":"quantitative","scale":{"domain":[0,256],"nice":false,"zero":false},"axis":null},"y":{"datum":244.5,"type":"quantitative","scale":{"domain":[0,256],"nice":false,"zero":false},"axis":null}}},
{"data":{"values":[{}]},"mark":{"type":"text","text":"A133","font":"Liberation Serif","fontSize":15,"color":"black"},"encoding":{"x":{"datum":237.75,"type":"quantitative","scale":{"domain":[0,256],"nice":false,"zero":false},"axis":null},"y":{"datum":244.5,"type":"quantitative","scale":{"domain":[0,256],"nice":false,"zero":false},"axis":null}}}
]}
]
}
